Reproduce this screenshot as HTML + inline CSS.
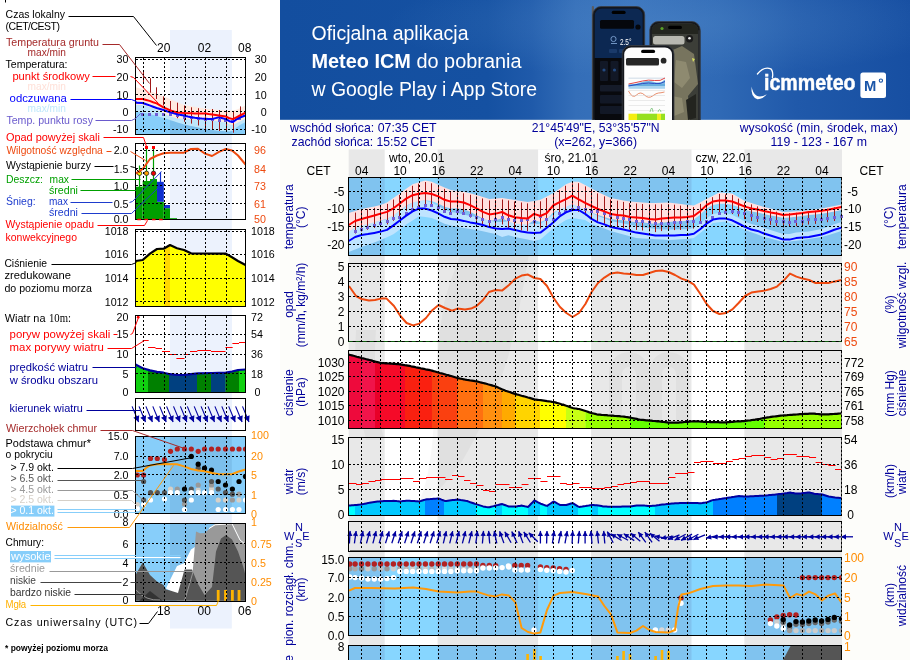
<!DOCTYPE html>
<html lang="pl"><head><meta charset="utf-8"><title>Meteogram ICM</title>
<style>
html,body{margin:0;padding:0;background:#fff;}
body{width:910px;height:660px;overflow:hidden;font-family:"Liberation Sans",sans-serif;}
svg{display:block;font-family:"Liberation Sans",sans-serif;will-change:transform;}
</style></head><body>
<svg width="910" height="660" viewBox="0 0 910 660">
<rect x="170" y="30" width="61.8" height="598.5" fill="#ecf2fd" /><rect x="5" y="0" width="1" height="2.5" fill="#000" /><text x="163.8" y="51.6" font-size="12" fill="#000" text-anchor="middle" >20</text><text x="204.5" y="51.6" font-size="12" fill="#000" text-anchor="middle" >02</text><text x="244.8" y="51.6" font-size="12" fill="#000" text-anchor="middle" >08</text><text x="163.8" y="614.5" font-size="12" fill="#000" text-anchor="middle" >18</text><text x="204.2" y="614.5" font-size="12" fill="#000" text-anchor="middle" >00</text><text x="244.8" y="614.5" font-size="12" fill="#000" text-anchor="middle" >06</text><rect x="135.5" y="111.8" width="110" height="22.4" fill="#87cefa" /><rect x="170" y="111.8" width="61.8" height="22.4" fill="#7cbfec" /><rect x="170" y="57.6" width="61.8" height="54.2" fill="#ecf2fd" /><polygon points="135.5,98.7 142.7,99 146.2,100.2 149.6,101.4 153.1,102.7 156.6,104 160,105 163.5,106 167,107.2 170.5,108.3 173.9,109.3 177.4,110.3 180.9,110.9 184.3,111.6 187.8,112.5 191.3,113.3 194.8,113.8 198.2,114.2 201.7,114.5 205.2,114.7 208.6,114.9 212.1,115 215.6,114.1 219,113.3 222.5,114.2 226,115.1 229.4,117.2 232.9,118 236.4,115.4 239.9,113.5 243.3,112.3 245.5,111.5 245.5,122 243.3,123.2 239.9,125 236.4,127.5 232.9,130.7 229.4,131.4 226,131.3 222.5,131.1 219,131 215.6,130.5 212.1,130 208.6,129.5 205.2,129 201.7,128.3 198.2,127.5 194.8,126.8 191.3,126.1 187.8,125.3 184.3,124.6 180.9,123.5 177.4,122.4 173.9,121.3 170.5,120.2 167,119.1 163.5,118 160,117 156.6,115.9 153.1,114.9 149.6,113.9 146.2,113.3 142.7,112.7 135.5,111.5" fill="#bfe6fb" /><polygon points="135.5,87.3 142.7,89.1 146.2,90 149.6,90.9 153.1,92.2 156.6,93.6 160,95 163.5,96.4 167,97.8 170.5,99.3 173.9,100.8 177.4,102.2 180.9,103.7 184.3,105.1 187.8,105.7 191.3,106.2 194.8,106.8 198.2,107.4 201.7,108 205.2,108.6 208.6,108.9 212.1,109.3 215.6,109.6 219,109.9 222.5,110.3 226,110.6 229.4,110.4 232.9,110.2 236.4,109.8 239.9,108.2 243.3,106.5 245.5,105.5 245.5,118.7 243.3,119.8 239.9,121.5 236.4,123.3 232.9,125.1 229.4,124.3 226,122.5 222.5,122 219,121.5 215.6,121 212.1,120.5 208.6,120.1 205.2,119.6 201.7,119.6 198.2,119.6 194.8,119.5 191.3,119.3 187.8,119.2 184.3,119 180.9,118.7 177.4,118.4 173.9,117.5 170.5,116.5 167,114.9 163.5,113.3 160,111.3 156.6,109.4 153.1,108.2 149.6,106.9 146.2,106 142.7,105 135.5,105" fill="#ffeae0" /><path d="M143.5 70V82.7M150.5 78.2V92.7M156.5 87.3V99M163.5 96.4V105.5M170.5 101V114.5M177.5 102.7V118.2M184.5 105.5V121.8M191.5 107.3V123.6M198.5 108.2V125.5M205.5 109V129M212.5 109V130M219.5 110V131M226.5 110V131.8M233.5 111V132.7M240.5 106.4V120" stroke="#a01818" stroke-width="1" fill="none"/><rect x="141" y="113" width="3" height="3" fill="#7060d8" /><rect x="148" y="113" width="3" height="3" fill="#7060d8" /><rect x="155" y="113" width="3" height="3" fill="#7060d8" /><rect x="162" y="113" width="3" height="3" fill="#7060d8" /><rect x="169" y="113" width="3" height="3" fill="#7060d8" /><rect x="176" y="114" width="3" height="3" fill="#7060d8" /><rect x="183" y="116" width="3" height="3" fill="#7060d8" /><rect x="190" y="116" width="3" height="3" fill="#7060d8" /><rect x="197" y="117" width="3" height="3" fill="#7060d8" /><rect x="204" y="118" width="3" height="3" fill="#7060d8" /><rect x="211" y="118" width="3" height="3" fill="#7060d8" /><rect x="218" y="119" width="3" height="3" fill="#7060d8" /><rect x="224" y="119" width="3" height="3" fill="#7060d8" /><rect x="231" y="120" width="3" height="3" fill="#7060d8" /><rect x="238" y="117" width="3" height="3" fill="#7060d8" /><polyline points="135.5,102.7 142.7,103 146.2,104.2 149.6,105.4 153.1,106.7 156.6,108 160,109 163.5,110 167,111.2 170.5,112.3 173.9,113.3 177.4,114.3 180.9,114.9 184.3,115.6 187.8,116.5 191.3,117.3 194.8,117.8 198.2,118.2 201.7,118.5 205.2,118.7 208.6,118.9 212.1,119 215.6,118.1 219,117.3 222.5,118.2 226,119.1 229.4,121.2 232.9,122 236.4,119.4 239.9,117.5 243.3,116.3 245.5,115.5" fill="none" stroke="#0000ff" stroke-width="2" stroke-linejoin="round"/><polyline points="135.5,99 142.7,99 146.2,100 149.6,100.9 153.1,102.2 156.6,103.4 160,105.3 163.5,107.3 167,108.9 170.5,110.5 173.9,111.5 177.4,112.4 180.9,112.7 184.3,113 187.8,113.2 191.3,113.3 194.8,113.5 198.2,113.6 201.7,113.6 205.2,113.6 208.6,114.1 212.1,114.5 215.6,115 219,115.5 222.5,116 226,116.5 229.4,118.3 232.9,119.1 236.4,117.3 239.9,115.5 243.3,113.8 245.5,112.7" fill="none" stroke="#ff0000" stroke-width="2" stroke-linejoin="round"/><path d="M143.5 57.6V134.2M164.5 57.6V134.2M185.5 57.6V134.2M205.5 57.6V134.2M226.5 57.6V134.2M135.5 59.5H245.5M135.5 77.5H245.5M135.5 94.5H245.5M135.5 111.5H245.5M135.5 129.5H245.5" stroke="#000" stroke-width="1" stroke-dasharray="2 2" fill="none" shape-rendering="crispEdges"/><rect x="135.5" y="57.5" width="110" height="77" fill="none" stroke="#000" stroke-width="1" shape-rendering="crispEdges"/><text x="128.5" y="63.2" font-size="10.7" fill="#000" text-anchor="end" >30</text><text x="266.7" y="63.2" font-size="10.7" fill="#000" text-anchor="end" >30</text><text x="128.5" y="81.3" font-size="10.7" fill="#000" text-anchor="end" >20</text><text x="266.7" y="81.3" font-size="10.7" fill="#000" text-anchor="end" >20</text><text x="128.5" y="98.5" font-size="10.7" fill="#000" text-anchor="end" >10</text><text x="266.7" y="98.5" font-size="10.7" fill="#000" text-anchor="end" >10</text><text x="128.5" y="115.8" font-size="10.7" fill="#000" text-anchor="end" >0</text><text x="266.7" y="115.8" font-size="10.7" fill="#000" text-anchor="end" >0</text><text x="128.5" y="133.1" font-size="10.7" fill="#000" text-anchor="end" >-10</text><text x="266.7" y="133.1" font-size="10.7" fill="#000" text-anchor="end" >-10</text><rect x="170" y="143.6" width="61.8" height="76.4" fill="#ecf2fd" /><rect x="135.5" y="186.7" width="7.2" height="33.3" fill="#00a000" /><rect x="142.7" y="181" width="7.3" height="39" fill="#00a000" /><rect x="150" y="179" width="7" height="41" fill="#00a000" /><rect x="157" y="201.8" width="6.8" height="18.2" fill="#00a000" /><rect x="157" y="181.8" width="6.8" height="20" fill="#1030d0" /><rect x="163.8" y="208.2" width="6.2" height="11.8" fill="#00a000" /><rect x="163.8" y="205" width="6.2" height="3.2" fill="#1030d0" /><rect x="170" y="218.2" width="7" height="1.8" fill="#00a000" /><path d="M139.5 165.5V187M146.5 148V182M153.5 148V180" stroke="#00a000" stroke-width="1.2"/><path d="M160.5 171.8V182" stroke="#1030d0" stroke-width="1.2"/><rect x="145" y="146" width="3" height="3" fill="#ff0000" /><rect x="152" y="146" width="3" height="3" fill="#ff0000" /><circle cx="139.5" cy="173.3" r="2.2" fill="#ffee00" stroke="#222" stroke-width="0.8"/><circle cx="146.5" cy="173.3" r="2.2" fill="#ffa000" stroke="#222" stroke-width="0.8"/><circle cx="153.5" cy="173.3" r="2.2" fill="#ee0000" stroke="#222" stroke-width="0.8"/><polyline points="135.5,173.6 142.7,169 150,159 157,155.5 163.6,153.3 170,152.7 184,152.7 191,149 198,148.7 205,153.6 212,156 219,151.8 225.8,149 232,150.4 238,155.5 245.5,164.5" fill="none" stroke="#ee4a10" stroke-width="2" stroke-linejoin="round"/><path d="M143.5 143.6V220M164.5 143.6V220M185.5 143.6V220M205.5 143.6V220M226.5 143.6V220M135.5 150.5H245.5M135.5 168.5H245.5M135.5 185.5H245.5M135.5 203.5H245.5" stroke="#000" stroke-width="1" stroke-dasharray="2 2" fill="none" shape-rendering="crispEdges"/><rect x="135.5" y="143.5" width="110" height="76" fill="none" stroke="#000" stroke-width="1" shape-rendering="crispEdges"/><path d="M137.3 219.5H141M144.5 219.5H148M152 219.5H155.5M159 219.5H162.7" stroke="#ff0000" stroke-width="1.3"/><text x="128.5" y="154" font-size="10.7" fill="#000" text-anchor="end" >2.0</text><text x="128.5" y="172.7" font-size="10.7" fill="#000" text-anchor="end" >1.5</text><text x="128.5" y="189.5" font-size="10.7" fill="#000" text-anchor="end" >1.0</text><text x="128.5" y="207.6" font-size="10.7" fill="#000" text-anchor="end" >0.5</text><text x="128.5" y="223.3" font-size="10.7" fill="#000" text-anchor="end" >0.0</text><text x="254" y="154" font-size="10.7" fill="#ee4a10" text-anchor="start" >96</text><text x="254" y="172.7" font-size="10.7" fill="#ee4a10" text-anchor="start" >84</text><text x="254" y="189.5" font-size="10.7" fill="#ee4a10" text-anchor="start" >73</text><text x="254" y="207.6" font-size="10.7" fill="#ee4a10" text-anchor="start" >61</text><text x="254" y="223.3" font-size="10.7" fill="#ee4a10" text-anchor="start" >50</text><rect x="170" y="229.5" width="61.8" height="76.9" fill="#ecf2fd" /><polygon points="135.5,261 142.7,260 150,253.6 157,249 163.6,248.7 170,245 177,248.2 184,250 191,253.3 225.8,253.6 232,257.3 238,261 245.5,265 245.5,306.4 135.5,306.4" fill="#ffff00" /><clipPath id="lpc"><polygon points="135.5,261 142.7,260 150,253.6 157,249 163.6,248.7 170,245 177,248.2 184,250 191,253.3 225.8,253.6 232,257.3 238,261 245.5,265 245.5,306.4 135.5,306.4"/></clipPath><g clip-path="url(#lpc)"><rect x="164.5" y="229.5" width="5.5" height="76.9" fill="#ffd700" /></g><polyline points="135.5,261 142.7,260 150,253.6 157,249 163.6,248.7 170,245 177,248.2 184,250 191,253.3 225.8,253.6 232,257.3 238,261 245.5,265" fill="none" stroke="#000" stroke-width="2.2" stroke-linejoin="round"/><path d="M143.5 229.5V306.4M164.5 229.5V306.4M185.5 229.5V306.4M205.5 229.5V306.4M226.5 229.5V306.4M135.5 231.5H245.5M135.5 254.5H245.5M135.5 278.5H245.5M135.5 301.5H245.5" stroke="#000" stroke-width="1" stroke-dasharray="2 2" fill="none" shape-rendering="crispEdges"/><rect x="135.5" y="229.5" width="110" height="77" fill="none" stroke="#000" stroke-width="1" shape-rendering="crispEdges"/><text x="128.5" y="235.3" font-size="10.7" fill="#000" text-anchor="end" >1018</text><text x="251" y="235.3" font-size="10.7" fill="#000" text-anchor="start" >1018</text><text x="128.5" y="258.2" font-size="10.7" fill="#000" text-anchor="end" >1016</text><text x="251" y="258.2" font-size="10.7" fill="#000" text-anchor="start" >1016</text><text x="128.5" y="282.2" font-size="10.7" fill="#000" text-anchor="end" >1014</text><text x="251" y="282.2" font-size="10.7" fill="#000" text-anchor="start" >1014</text><text x="128.5" y="305.5" font-size="10.7" fill="#000" text-anchor="end" >1012</text><text x="251" y="305.5" font-size="10.7" fill="#000" text-anchor="start" >1012</text><rect x="170" y="315.5" width="61.8" height="76.7" fill="#ecf2fd" /><clipPath id="lwc"><polygon points="135.5,364.5 142.7,368.2 150,370.4 157,371.8 163.6,372.7 170,374.2 177,375 184,375 191,374.2 198,373.3 212,373 225.8,372.7 232,371.5 238,370 245.5,369.5 245.5,392.2 135.5,392.2"/></clipPath><g clip-path="url(#lwc)"><rect x="135.5" y="315.5" width="12.8" height="76.7" fill="#10d010" /><rect x="148" y="315.5" width="21.3" height="76.7" fill="#008000" /><rect x="169" y="315.5" width="28.3" height="76.7" fill="#004080" /><rect x="197" y="315.5" width="14.3" height="76.7" fill="#008000" /><rect x="211" y="315.5" width="14.8" height="76.7" fill="#004080" /><rect x="225.5" y="315.5" width="13.8" height="76.7" fill="#008000" /><rect x="239" y="315.5" width="6.8" height="76.7" fill="#10d010" /></g><polyline points="135.5,364.5 142.7,368.2 150,370.4 157,371.8 163.6,372.7 170,374.2 177,375 184,375 191,374.2 198,373.3 212,373 225.8,372.7 232,371.5 238,370 245.5,369.5" fill="none" stroke="#0000a0" stroke-width="2.2" stroke-linejoin="round"/><path d="M142.7 340.5H148.7M148 347.5H155.5M155.5 348.5H162M162 351.5H170M170 354.5H176.7M176.4 358.5H184.5M183.6 354.5H190M190 351.5H197.3M197.3 350.5H211M211 351.5H225.5M225.5 347.5H232.7M232.4 343.5H239M239 342.5H245.5" stroke="#ff0000" stroke-width="1" fill="none"/><circle cx="138.2" cy="317.2" r="1.4" fill="#ff0000"/><path d="M143.5 315.5V392.2M164.5 315.5V392.2M185.5 315.5V392.2M205.5 315.5V392.2M226.5 315.5V392.2M135.5 334.5H245.5M135.5 354.5H245.5M135.5 373.5H245.5" stroke="#000" stroke-width="1" stroke-dasharray="2 2" fill="none" shape-rendering="crispEdges"/><rect x="135.5" y="315.5" width="110" height="77" fill="none" stroke="#000" stroke-width="1" shape-rendering="crispEdges"/><text x="128.5" y="321.3" font-size="10.7" fill="#000" text-anchor="end" >20</text><text x="128.5" y="338.2" font-size="10.7" fill="#000" text-anchor="end" >15</text><text x="128.5" y="358.2" font-size="10.7" fill="#000" text-anchor="end" >10</text><text x="128.5" y="377.6" font-size="10.7" fill="#000" text-anchor="end" >5</text><text x="128.5" y="396.4" font-size="10.7" fill="#000" text-anchor="end" >0</text><text x="251" y="321.3" font-size="10.7" fill="#000" text-anchor="start" >72</text><text x="251" y="338.2" font-size="10.7" fill="#000" text-anchor="start" >54</text><text x="251" y="358.2" font-size="10.7" fill="#000" text-anchor="start" >36</text><text x="251" y="377.6" font-size="10.7" fill="#000" text-anchor="start" >18</text><text x="254.5" y="396.4" font-size="10.7" fill="#000" text-anchor="start" >0</text><rect x="170" y="398.5" width="61.8" height="31.5" fill="#ecf2fd" /><path d="M143.5 398.5V430M164.5 398.5V430M185.5 398.5V430M205.5 398.5V430M226.5 398.5V430" stroke="#000" stroke-width="1" stroke-dasharray="2 2" fill="none" shape-rendering="crispEdges"/><path d="M132.1 406.4L138.6 422" stroke="#0000a0" stroke-width="1.1"/><polygon points="138.6,422 133.4,417.7 139.2,415.3" fill="#0000a0" /><path d="M139 406.4L145.5 422" stroke="#0000a0" stroke-width="1.1"/><polygon points="145.5,422 140.3,417.7 146.1,415.3" fill="#0000a0" /><path d="M145.9 406.4L152.4 422" stroke="#0000a0" stroke-width="1.1"/><polygon points="152.4,422 147.2,417.7 153,415.3" fill="#0000a0" /><path d="M152.8 406.4L159.3 422" stroke="#0000a0" stroke-width="1.1"/><polygon points="159.3,422 154.1,417.7 159.9,415.3" fill="#0000a0" /><path d="M159.7 406.4L166.2 422" stroke="#0000a0" stroke-width="1.1"/><polygon points="166.2,422 161,417.7 166.8,415.3" fill="#0000a0" /><path d="M166.6 406.4L173.1 422" stroke="#0000a0" stroke-width="1.1"/><polygon points="173.1,422 167.9,417.7 173.7,415.3" fill="#0000a0" /><path d="M173.5 406.4L180 422" stroke="#0000a0" stroke-width="1.1"/><polygon points="180,422 174.8,417.7 180.6,415.3" fill="#0000a0" /><path d="M180.4 406.4L186.9 422" stroke="#0000a0" stroke-width="1.1"/><polygon points="186.9,422 181.7,417.7 187.5,415.3" fill="#0000a0" /><path d="M187.3 406.4L193.8 422" stroke="#0000a0" stroke-width="1.1"/><polygon points="193.8,422 188.6,417.7 194.4,415.3" fill="#0000a0" /><path d="M194.2 406.4L200.7 422" stroke="#0000a0" stroke-width="1.1"/><polygon points="200.7,422 195.5,417.7 201.3,415.3" fill="#0000a0" /><path d="M201.1 406.4L207.6 422" stroke="#0000a0" stroke-width="1.1"/><polygon points="207.6,422 202.4,417.7 208.2,415.3" fill="#0000a0" /><path d="M208 406.4L214.5 422" stroke="#0000a0" stroke-width="1.1"/><polygon points="214.5,422 209.3,417.7 215.1,415.3" fill="#0000a0" /><path d="M214.9 406.4L221.4 422" stroke="#0000a0" stroke-width="1.1"/><polygon points="221.4,422 216.2,417.7 222,415.3" fill="#0000a0" /><path d="M221.8 406.4L228.3 422" stroke="#0000a0" stroke-width="1.1"/><polygon points="228.3,422 223.1,417.7 228.9,415.3" fill="#0000a0" /><path d="M228.7 406.4L235.2 422" stroke="#0000a0" stroke-width="1.1"/><polygon points="235.2,422 230,417.7 235.8,415.3" fill="#0000a0" /><path d="M235.6 406.4L242.1 422" stroke="#0000a0" stroke-width="1.1"/><polygon points="242.1,422 236.9,417.7 242.7,415.3" fill="#0000a0" /><path d="M242.5 406.4L249 422" stroke="#0000a0" stroke-width="1.1"/><polygon points="249,422 243.8,417.7 249.6,415.3" fill="#0000a0" /><rect x="135.5" y="398.5" width="110" height="32" fill="none" stroke="#000" stroke-width="1" shape-rendering="crispEdges"/><rect x="135.5" y="436.7" width="110" height="77.3" fill="#87cefa" /><rect x="170" y="436.7" width="61.8" height="77.3" fill="#7cbfec" /><clipPath id="lcb"><rect x="135.5" y="436.7" width="110.5" height="77.3"/></clipPath><g clip-path="url(#lcb)"><circle cx="170.5" cy="489" r="2.6" fill="#d6d0c8"/><circle cx="198.2" cy="490" r="2.6" fill="#d6d0c8"/><circle cx="211.5" cy="489" r="2.6" fill="#d6d0c8"/><circle cx="218.2" cy="500" r="2.6" fill="#d6d0c8"/><circle cx="225.5" cy="500" r="2.6" fill="#d6d0c8"/><circle cx="239" cy="500" r="2.6" fill="#d6d0c8"/><circle cx="137.3" cy="504.5" r="2.6" fill="#d6d0c8"/><circle cx="177.3" cy="489" r="2.6" fill="#999"/><circle cx="198.2" cy="485" r="2.6" fill="#999"/><circle cx="211.5" cy="485" r="2.6" fill="#999"/><circle cx="239" cy="494.2" r="2.6" fill="#999"/><circle cx="232.4" cy="500" r="2.6" fill="#999"/><circle cx="184.5" cy="504" r="2.6" fill="#999"/><circle cx="143.6" cy="481.5" r="2.6" fill="#555"/><circle cx="150.5" cy="492.7" r="2.6" fill="#555"/><circle cx="157.3" cy="492.7" r="2.6" fill="#555"/><circle cx="164.5" cy="492.7" r="2.6" fill="#555"/><circle cx="143.6" cy="500" r="2.6" fill="#555"/><circle cx="184.5" cy="500" r="2.6" fill="#555"/><circle cx="191.3" cy="489" r="2.6" fill="#555"/><circle cx="211.5" cy="481.5" r="2.6" fill="#555"/><circle cx="218.2" cy="489" r="2.6" fill="#555"/><circle cx="225.5" cy="492.7" r="2.6" fill="#555"/><circle cx="232.4" cy="494.2" r="2.6" fill="#555"/><circle cx="198.2" cy="468.2" r="2.6" fill="#555"/><circle cx="170.5" cy="492.7" r="2.6" fill="#fff"/><circle cx="177.3" cy="492.7" r="2.6" fill="#fff"/><circle cx="191.3" cy="492.7" r="2.6" fill="#fff"/><circle cx="198.2" cy="492.7" r="2.6" fill="#fff"/><circle cx="204.5" cy="492.7" r="2.6" fill="#fff"/><circle cx="211.5" cy="492.7" r="2.6" fill="#fff"/><circle cx="150.5" cy="500" r="2.6" fill="#fff"/><circle cx="164.5" cy="499" r="2.6" fill="#fff"/><circle cx="191.3" cy="500" r="2.6" fill="#fff"/><circle cx="143.6" cy="504.5" r="2.6" fill="#fff"/><circle cx="137.3" cy="508.7" r="2.6" fill="#fff"/><circle cx="184.5" cy="509.5" r="2.6" fill="#fff"/><circle cx="218.2" cy="509.5" r="2.6" fill="#fff"/><circle cx="225.5" cy="509.5" r="2.6" fill="#fff"/><circle cx="232.4" cy="509.5" r="2.6" fill="#fff"/><circle cx="239" cy="509.5" r="2.6" fill="#fff"/><circle cx="245.5" cy="500" r="2.6" fill="#fff"/><circle cx="191.3" cy="456.4" r="2.6" fill="#000"/><circle cx="198.2" cy="464.2" r="2.6" fill="#000"/><circle cx="204.5" cy="468.2" r="2.6" fill="#000"/><circle cx="211.5" cy="470" r="2.6" fill="#000"/><circle cx="218.2" cy="481.5" r="2.6" fill="#000"/><circle cx="225.5" cy="485" r="2.6" fill="#000"/><circle cx="232.4" cy="489" r="2.6" fill="#000"/><circle cx="239" cy="481.5" r="2.6" fill="#000"/><circle cx="245.5" cy="476.4" r="2.6" fill="#000"/><circle cx="184.5" cy="489" r="2.6" fill="#000"/><circle cx="137.3" cy="475" r="2.6" fill="#b22222"/><circle cx="143.6" cy="475" r="2.6" fill="#b22222"/><circle cx="150.5" cy="458.5" r="2.6" fill="#b22222"/><circle cx="157.3" cy="458.5" r="2.6" fill="#b22222"/><circle cx="164.5" cy="459.6" r="2.6" fill="#b22222"/><circle cx="170.5" cy="451.3" r="2.6" fill="#b22222"/><circle cx="177.3" cy="449" r="2.6" fill="#b22222"/><circle cx="184.5" cy="449" r="2.6" fill="#b22222"/><circle cx="191.3" cy="449" r="2.6" fill="#b22222"/><circle cx="198.2" cy="451.3" r="2.6" fill="#b22222"/><circle cx="204.5" cy="449" r="2.6" fill="#b22222"/><circle cx="211.5" cy="449" r="2.6" fill="#b22222"/><circle cx="218.2" cy="449" r="2.6" fill="#b22222"/><circle cx="225.5" cy="449" r="2.6" fill="#b22222"/><circle cx="232.4" cy="449" r="2.6" fill="#b22222"/><circle cx="239" cy="449" r="2.6" fill="#b22222"/><circle cx="245.5" cy="449" r="2.6" fill="#b22222"/></g><polyline points="135.5,471 142.7,471 146,468 150,465.5 157,464.2 163.6,464 177,464.2 184,466.4 191,469 198,470.5 205,471.3 212,473 219,474.2 232,474.2 238,471.8 245.5,469.5" fill="none" stroke="#ff9a0a" stroke-width="2" stroke-linejoin="round"/><path d="M143.5 436.7V514M164.5 436.7V514M185.5 436.7V514M205.5 436.7V514M226.5 436.7V514M135.5 456.5H245.5M135.5 474.5H245.5M135.5 494.5H245.5" stroke="#000" stroke-width="1" stroke-dasharray="2 2" fill="none" shape-rendering="crispEdges"/><rect x="135.5" y="436.5" width="110" height="77" fill="none" stroke="#000" stroke-width="1" shape-rendering="crispEdges"/><text x="128.5" y="440.2" font-size="10.7" fill="#000" text-anchor="end" >15.0</text><text x="128.5" y="460.4" font-size="10.7" fill="#000" text-anchor="end" >7.0</text><text x="128.5" y="479" font-size="10.7" fill="#000" text-anchor="end" >2.0</text><text x="128.5" y="499" font-size="10.7" fill="#000" text-anchor="end" >0.5</text><text x="128.5" y="518" font-size="10.7" fill="#000" text-anchor="end" >0.0</text><text x="251" y="439.3" font-size="10.7" fill="#ff8c00" text-anchor="start" >100</text><text x="251" y="460.4" font-size="10.7" fill="#ff8c00" text-anchor="start" >20</text><text x="251" y="479" font-size="10.7" fill="#ff8c00" text-anchor="start" >5</text><text x="251" y="499" font-size="10.7" fill="#ff8c00" text-anchor="start" >1</text><text x="251" y="518" font-size="10.7" fill="#ff8c00" text-anchor="start" >0</text><rect x="135.5" y="523.2" width="110" height="77.6" fill="#87cefa" /><rect x="170" y="523.2" width="61.8" height="77.6" fill="#7cbfec" /><clipPath id="lcl"><rect x="135.5" y="523.2" width="110" height="77.6"/></clipPath><g clip-path="url(#lcl)"><polygon points="166,588.6 170,580 177,566 184,563.2 191,549.5 198,545 205,541.4 209,528.6 215,525 225,523.2 232,523.5 240,540 245.5,544 245.5,601 177,601 170,590.5" fill="#fff" /><polygon points="192,580 196,531.4 200,533.2 205,533 209.5,528.6 215,525 232,523.5 240,540 245.5,544 245.5,601 192,601" fill="#999" /><polygon points="209.5,528.6 212,526 216,523.2 245.5,523.2 245.5,544 240,540 232,523.5 215,525" fill="#a8a8a8" /><polygon points="135.5,575 142.7,562.6 150,575 157,581.4 163.6,585 166,589.5 170,590.5 178,593 184.5,569.5 192,569.5 198,584 204.5,595 212,587 216,551.4 221,538.6 226,535 232,539.5 238,551.4 243,566 245.5,575 245.5,601 135.5,601" fill="#555" /><polygon points="139,601 150,591 163,601" fill="#333" /><path d="M209 528.5L215 524.8L232 523.7L240 540L245.5 544.5" stroke="#fff" stroke-width="1" fill="none"/><path d="M184.5 601L193 572M136 590Q146 601 160 600" stroke="#aaa" stroke-width="0.8" fill="none"/><rect x="216.8" y="590" width="2.8" height="11" fill="#ffb400" /><rect x="224.1" y="590" width="2.8" height="11" fill="#ffb400" /><rect x="231" y="590" width="2.8" height="11" fill="#ffb400" /><rect x="237.6" y="590" width="2.8" height="11" fill="#ffb400" /></g><path d="M143.5 523.2V600.8M164.5 523.2V600.8M185.5 523.2V600.8M205.5 523.2V600.8M226.5 523.2V600.8M135.5 543.5H245.5M135.5 562.5H245.5M135.5 582.5H245.5" stroke="#000" stroke-width="1" stroke-dasharray="2 2" fill="none" shape-rendering="crispEdges"/><rect x="135.5" y="523.5" width="110" height="78" fill="none" stroke="#000" stroke-width="1" shape-rendering="crispEdges"/><text x="128.5" y="526" font-size="10.7" fill="#000" text-anchor="end" >8</text><text x="128.5" y="547.5" font-size="10.7" fill="#000" text-anchor="end" >6</text><text x="128.5" y="566.6" font-size="10.7" fill="#000" text-anchor="end" >4</text><text x="128.5" y="586.3" font-size="10.7" fill="#000" text-anchor="end" >2</text><text x="128.5" y="604" font-size="10.7" fill="#000" text-anchor="end" >0</text><text x="251" y="526" font-size="10.7" fill="#ff8c00" text-anchor="start" >1</text><text x="251" y="547.5" font-size="10.7" fill="#ff8c00" text-anchor="start" >0.75</text><text x="251" y="566.6" font-size="10.7" fill="#ff8c00" text-anchor="start" >0.5</text><text x="251" y="586.3" font-size="10.7" fill="#ff8c00" text-anchor="start" >0.25</text><text x="251" y="604.5" font-size="10.7" fill="#ff8c00" text-anchor="start" >0</text><text x="5.6" y="18" font-size="10.48" fill="#000">Czas lokalny</text><text x="5.6" y="30" font-size="10.5" textLength="54.4" lengthAdjust="spacing">(CET/CEST)</text><polyline points="68.5,16.5 133.5,16.5 156.5,45.5" fill="none" stroke="#000" stroke-width="1" /><text x="6" y="46" font-size="10.66" fill="#a52a2a">Temperatura gruntu</text><text x="27.6" y="55.6" font-size="10.16" fill="#a52a2a">max/min</text><polyline points="102.5,44.5 119.5,44.5 149.5,83.5" fill="none" stroke="#a52a2a" stroke-width="1" /><text x="5.6" y="67.6" font-size="10.53" fill="#000">Temperatura:</text><text x="12.4" y="80" font-size="11.17" fill="#ff0000">punkt &#347;rodkowy</text><polyline points="92.5,76.5 115.5,76.5" fill="none" stroke="#ff0000" stroke-width="1" /><polyline points="130.5,76.5 133.5,77.5 158.5,103.5" fill="none" stroke="#ff0000" stroke-width="1" /><text x="27.6" y="90" font-size="10.16" fill="#ffe0d8">max/min</text><text x="9.6" y="101.6" font-size="11.33" fill="#0000ff">odczuwana</text><polyline points="70.5,99.5 131.5,99.5 136.5,101.5" fill="none" stroke="#0000ff" stroke-width="1" /><text x="27.6" y="111.6" font-size="10.16" fill="#bfe8fb">max/min</text><text x="6.4" y="123.6" font-size="10.60" fill="#6a5acd">Temp. punktu rosy</text><polyline points="95.5,120.5 131.5,120.5 135.5,118.5 140.5,113.5" fill="none" stroke="#6a5acd" stroke-width="1" /><text x="6" y="140.6" font-size="10.91" fill="#ff0000">Opad powy&#380;ej skali</text><polyline points="103.5,137.5 143.5,137.5 146.5,146.5" fill="none" stroke="#ff0000" stroke-width="1" /><text x="6.4" y="154.4" font-size="10.28" fill="#ee4a10">Wilgotno&#347;&#263; wzgl&#281;dna</text><polyline points="106.5,151.5 111.5,151.5" fill="none" stroke="#ee4a10" stroke-width="1" /><polyline points="130.5,151.5 145.5,160.5" fill="none" stroke="#ee4a10" stroke-width="1" /><text x="6" y="168.6" font-size="10.42" fill="#000">Wyst&#261;pienie burzy</text><polyline points="94.5,166.5 113.5,166.5" fill="none" stroke="#000" stroke-width="1" /><polyline points="130.5,166.5 134.5,167.5 139.5,172.5" fill="none" stroke="#000" stroke-width="1" /><text x="6" y="182.6" font-size="10.41" fill="#00a000">Deszcz:</text><text x="49.6" y="182.6" font-size="10.26" fill="#00a000">max</text><polyline points="71.5,179.5 140.5,179.5" fill="none" stroke="#00a000" stroke-width="1" /><text x="49" y="193.6" font-size="10.64" fill="#00a000">&#347;redni</text><polyline points="80.5,190.5 136.5,190.5" fill="none" stroke="#00a000" stroke-width="1" /><text x="6" y="204.6" font-size="10.44" fill="#1e3ccd">&#346;nieg:</text><text x="49" y="204.6" font-size="10.05" fill="#1e3ccd">max</text><polyline points="70.5,202.5 112.5,202.5" fill="none" stroke="#1e3ccd" stroke-width="1" /><polyline points="129.5,202.5 132.5,201.5 161.5,171.5" fill="none" stroke="#1e3ccd" stroke-width="1" /><text x="49" y="215.6" font-size="10.64" fill="#1e3ccd">&#347;redni</text><polyline points="81.5,213.5 131.5,213.5 158.5,187.5" fill="none" stroke="#1e3ccd" stroke-width="1" /><text x="5.6" y="228" font-size="10.41" fill="#ff0000">Wyst&#261;pienie opadu</text><text x="5.6" y="240.6" font-size="10.44" fill="#ff0000">konwekcyjnego</text><polyline points="97.5,225.5 144.5,225.5 147.5,220.5" fill="none" stroke="#ff0000" stroke-width="1" /><text x="4.4" y="266.6" font-size="10.35" fill="#000">Ci&#347;nienie</text><text x="4.4" y="279.4" font-size="11.19" fill="#000">zredukowane</text><text x="4.4" y="292.4" font-size="10.64" fill="#000">do poziomu morza</text><polyline points="51.5,264.5 131.5,264.5 136.5,262.5" fill="none" stroke="#000" stroke-width="1" /><text x="4.8" y="321.6" font-size="10.93" fill="#000">Wiatr na</text><text x="49" y="321.6" font-size="12" fill="#000" font-family="Liberation Serif" textLength="22" lengthAdjust="spacingAndGlyphs">10m:</text><text x="9.6" y="338" font-size="11.41" fill="#ff0000">poryw powy&#380;ej skali</text><polyline points="113.5,334.5 117.5,334.5" fill="none" stroke="#ff0000" stroke-width="1" /><polyline points="130.5,334.5 132.5,333.5 138.5,317.5" fill="none" stroke="#ff0000" stroke-width="1" /><text x="9.6" y="351.4" font-size="11.40" fill="#ff0000">max porywy wiatru</text><polyline points="107.5,348.5 131.5,348.5 144.5,340.5" fill="none" stroke="#ff0000" stroke-width="1" /><text x="9.6" y="371" font-size="11.19" fill="#00009b">pr&#281;dko&#347;&#263; wiatru</text><text x="9.7" y="384" font-size="11.28" fill="#00009b">w &#347;rodku obszaru</text><polyline points="92.5,367.5 136.5,367.5" fill="none" stroke="#00009b" stroke-width="1" /><text x="9.6" y="412.4" font-size="10.91" fill="#00009b">kierunek wiatru</text><polyline points="86.5,410.5 140.5,410.5" fill="none" stroke="#00009b" stroke-width="1" /><text x="6" y="432.4" font-size="10.71" fill="#a52a2a">Wierzcho&#322;ek chmur</text><polyline points="100.5,430.5 132.5,430.5 184.5,448.5" fill="none" stroke="#a52a2a" stroke-width="1" /><text x="5.6" y="447.4" font-size="10.90" fill="#000">Podstawa chmur*</text><text x="5.6" y="458.4" font-size="10.39" fill="#000">o pokryciu</text><text x="10.4" y="471.4" font-size="10.53" fill="#000">&gt; 7.9 okt.</text><polyline points="57.5,468.5 132.5,468.5 192.5,457.5" fill="none" stroke="#000" stroke-width="1" /><text x="10.4" y="482.4" font-size="10.53" fill="#555">&gt; 6.5 okt.</text><polyline points="57.5,480.5 143.5,480.5" fill="none" stroke="#555" stroke-width="1" /><text x="10.4" y="493" font-size="10.53" fill="#999">&gt; 4.5 okt.</text><polyline points="57.5,490.5 132.5,490.5 143.5,500.5" fill="none" stroke="#999" stroke-width="1" /><text x="10.4" y="503" font-size="10.53" fill="#d6d0c8">&gt; 2.5 okt.</text><polyline points="57.5,500.5 131.5,500.5 137.5,506.5" fill="none" stroke="#d6d0c8" stroke-width="1" /><rect x="11" y="505.6" width="43.4" height="11" fill="#87cefa" /><text x="10.4" y="514" font-size="10.53" fill="#fff">&gt; 0.1 okt.</text><polyline points="57.5,509.5 136.5,509.5" fill="none" stroke="#87cefa" stroke-width="1" /><polyline points="57.5,512.5 136.5,512.5" fill="none" stroke="#87cefa" stroke-width="1" /><text x="6" y="529.8" font-size="10.68" fill="#ff8c00">Widzialno&#347;&#263;</text><polyline points="67.5,527.5 129.5,527.5 173.5,465.5" fill="none" stroke="#ff9a0a" stroke-width="1" /><text x="5.6" y="546" font-size="10.16" fill="#000">Chmury:</text><rect x="10" y="551" width="41" height="11.4" fill="#87cefa" /><text x="11.1" y="559.6" font-size="11.10" fill="#fff">wysokie</text><polyline points="54.5,555.5 180.5,555.5" fill="none" stroke="#87cefa" stroke-width="1" /><polyline points="54.5,557.5 180.5,557.5" fill="none" stroke="#fff" stroke-width="1" /><polyline points="54.5,558.5 180.5,558.5" fill="none" stroke="#87cefa" stroke-width="1" /><text x="10" y="572.4" font-size="10.67" fill="#999">&#347;rednie</text><polyline points="49.5,571.5 200.5,571.5" fill="none" stroke="#999" stroke-width="1" /><text x="10" y="584.4" font-size="10.18" fill="#444">niskie</text><polyline points="40.5,582.5 121.5,582.5" fill="none" stroke="#444" stroke-width="1" /><polyline points="130.5,582.5 136.5,582.5" fill="none" stroke="#444" stroke-width="1" /><text x="10" y="596.4" font-size="10.36" fill="#333">bardzo niskie</text><polyline points="74.5,594.5 143.5,594.5" fill="none" stroke="#333" stroke-width="1" /><text x="5.4" y="608" font-size="10.5" fill="#ffb000" textLength="20.8" lengthAdjust="spacingAndGlyphs">Mg&#322;a</text><polyline points="30.5,605.5 216.5,605.5 218.5,600.5" fill="none" stroke="#ffb400" stroke-width="1" /><text x="5.6" y="625.6" font-size="10.6" fill="#000" textLength="131.5" lengthAdjust="spacing">Czas uniwersalny (UTC)</text><polyline points="139.5,623.5 148.5,623.5 157.5,611.5" fill="none" stroke="#000" stroke-width="1" /><text x="5" y="651" font-size="9.6" font-weight="bold" fill="#000" textLength="103" lengthAdjust="spacingAndGlyphs">* powy&#380;ej poziomu morza</text><rect x="280" y="119" width="630" height="542" fill="#fdfdfa" /><rect x="348.7" y="149.4" width="493.3" height="511.6" fill="#e8e8e8" /><rect x="384.7" y="149.4" width="52.9" height="511.6" fill="#fff" /><rect x="538.1" y="149.4" width="52.9" height="511.6" fill="#fff" /><rect x="691.5" y="149.4" width="52.9" height="511.6" fill="#fff" /><g opacity="0.028" fill="#000" stroke="none"><path d="M528.8 255Q522 300 508.7 355Q490 415 460.5 464Q445 485 428 500L420 500Q432 470 434 415Q435 355 444 303Q450 280 460.5 255Z"/><path d="M356 330Q352 390 366 440L384 440Q372 390 376 330Z"/><path d="M609 423V372a20 20 0 0 1 40 0V423h-13V374a7 7 0 0 0 -14 0V423Z"/><path d="M649 423V372a20 20 0 0 1 40 0V423h-13V374a7 7 0 0 0 -14 0V423Z"/></g><text x="389" y="161.6" font-size="12" fill="#000" text-anchor="start" >wto, 20.01</text><text x="544.5" y="161.6" font-size="12" fill="#000" text-anchor="start" >&#347;ro, 21.01</text><text x="695.5" y="161.6" font-size="12" fill="#000" text-anchor="start" >czw, 22.01</text><text x="361.8" y="174.6" font-size="12" fill="#000" text-anchor="middle" >04</text><text x="400.1" y="174.6" font-size="12" fill="#000" text-anchor="middle" >10</text><text x="438.5" y="174.6" font-size="12" fill="#000" text-anchor="middle" >16</text><text x="476.8" y="174.6" font-size="12" fill="#000" text-anchor="middle" >22</text><text x="515.2" y="174.6" font-size="12" fill="#000" text-anchor="middle" >04</text><text x="553.5" y="174.6" font-size="12" fill="#000" text-anchor="middle" >10</text><text x="591.8" y="174.6" font-size="12" fill="#000" text-anchor="middle" >16</text><text x="630.2" y="174.6" font-size="12" fill="#000" text-anchor="middle" >22</text><text x="668.5" y="174.6" font-size="12" fill="#000" text-anchor="middle" >04</text><text x="706.9" y="174.6" font-size="12" fill="#000" text-anchor="middle" >10</text><text x="745.2" y="174.6" font-size="12" fill="#000" text-anchor="middle" >16</text><text x="783.5" y="174.6" font-size="12" fill="#000" text-anchor="middle" >22</text><text x="821.9" y="174.6" font-size="12" fill="#000" text-anchor="middle" >04</text><text x="318.5" y="174.6" font-size="12" fill="#000" text-anchor="middle" >CET</text><text x="871.5" y="174.6" font-size="12" fill="#000" text-anchor="middle" >CET</text><text x="290" y="131.9" font-size="12.34" fill="#00009b">wsch&#243;d s&#322;o&#324;ca: 07:35 CET</text><text x="291.6" y="145.7" font-size="12.23" fill="#00009b">zach&#243;d s&#322;o&#324;ca: 15:52 CET</text><text x="531.8" y="131.9" font-size="12.17" fill="#00009b">21&#176;45'49"E, 53&#176;35'57"N</text><text x="554.2" y="145.7" font-size="12.3" fill="#00009b" text-anchor="start" >(x=262,</text><text x="637" y="145.7" font-size="12.3" fill="#00009b" text-anchor="end" >y=366)</text><text x="739.7" y="131.9" font-size="12.28" fill="#00009b">wysoko&#347;&#263; (min, &#347;rodek, max)</text><text x="770.6" y="145.7" font-size="12.33" fill="#00009b">119 - 123 - 167 m</text><rect x="348.7" y="177.3" width="492.8" height="77.8" fill="#80c3ef" /><rect x="384.7" y="177.3" width="52.9" height="77.8" fill="#87d6ff" /><rect x="538.1" y="177.3" width="52.9" height="77.8" fill="#87d6ff" /><rect x="691.5" y="177.3" width="52.9" height="77.8" fill="#87d6ff" /><polygon points="348.7,229 355.1,225.2 361.5,223.4 367.9,222.7 374.3,221.7 380.6,220.7 387,219.3 393.4,215.3 399.8,210.8 406.2,206.3 412.6,202.4 419,200.2 425.4,200.5 431.8,202.7 438.2,205.9 444.5,209.6 450.9,212.1 457.3,213 463.7,214.4 470.1,215.9 476.5,217.1 482.9,218.5 489.3,220.6 495.7,222 502.1,222.1 508.4,221.3 514.8,222.2 521.2,223.4 527.6,223.8 534,224 540.4,223.9 546.8,219.4 553.2,214.4 559.6,208.7 566,205 572.3,203.1 578.7,203.2 585.1,207.2 591.5,212.4 597.9,216 604.3,218.2 610.7,220.9 617.1,222.3 623.5,223.4 629.9,224.8 636.2,226.3 642.6,227.2 649,228 655.4,229.1 661.8,229.4 668.2,229.5 674.6,229.6 681,229.2 687.4,229.3 693.8,228 700.1,223.7 706.5,218.2 712.9,214.1 719.3,213.1 725.7,213.1 732.1,214.8 738.5,218 744.9,221.4 751.3,224 757.7,225.4 764,228 770.4,230 776.8,232 783.2,234 789.6,234.1 796,232.6 802.4,232.1 808.8,231.5 815.2,230.2 821.6,229 828,226.7 834.3,224.3 841.5,222.1 841.5,231 834.3,233.2 828,235.2 821.6,237.1 815.2,238.1 808.8,239 802.4,240 796,240.7 789.6,241.4 783.2,241.9 776.8,240.2 770.4,238.6 764,236.9 757.7,234.6 751.3,232.3 744.9,229.9 738.5,227.1 732.1,224.3 725.7,221.6 719.3,222.3 712.9,223.1 706.5,228.1 700.1,233.1 693.8,238 687.4,239 681,239.3 674.6,239.7 668.2,240 661.8,239.6 655.4,239.2 649,238.8 642.6,238.4 636.2,238 629.9,236.2 623.5,234.4 617.1,232.7 610.7,230.9 604.3,228.6 597.9,226.3 591.5,224 585.1,220.1 578.7,219 572.3,218.1 566,220 559.6,224.1 553.2,228.4 546.8,234 540.4,239.6 534,240.9 527.6,239.6 521.2,238.3 514.8,236.9 508.4,235.2 502.1,237 495.7,234 489.3,232.7 482.9,231.3 476.5,230 470.1,229 463.7,228 457.3,226.9 450.9,225.4 444.5,223.8 438.2,220.8 431.8,218 425.4,216.9 419,216.3 412.6,220.4 406.2,224.6 399.8,229.5 393.4,234.3 387,237.2 380.6,240.1 374.3,242.4 367.9,244.7 361.5,247 355.1,249.6 348.7,252" fill="#bfe4ff" /><polygon points="348.7,213 355.1,211.1 361.5,209 367.9,207.7 374.3,206.4 380.6,205 387,202.4 393.4,198.1 399.8,193.4 406.2,188.8 412.6,184.3 419,182.2 425.4,180.5 431.8,181.8 438.2,184.8 444.5,187.4 450.9,190 457.3,190.9 463.7,191.8 470.1,193.3 476.5,194.9 482.9,197 489.3,199 495.7,198.5 502.1,198 508.4,199 514.8,200 521.2,201 527.6,201.9 534,201 540.4,199.8 546.8,196.5 553.2,193.2 559.6,188.8 566,184.3 572.3,181.8 578.7,181.7 585.1,184.9 591.5,188.4 597.9,191.9 604.3,194.9 610.7,197.9 617.1,199.2 623.5,200.4 629.9,201.6 636.2,202 642.6,202.5 649,202.9 655.4,202.9 661.8,202.8 668.2,202.6 674.6,203.2 681,204.1 687.4,205 693.8,205.6 700.1,202.4 706.5,199 712.9,195.7 719.3,192.4 725.7,193 732.1,193.6 738.5,197.2 744.9,200.9 751.3,202.9 757.7,204.9 764,206.9 770.4,208.6 776.8,210.2 783.2,211.9 789.6,211.7 796,211.3 802.4,211 808.8,210.2 815.2,209.3 821.6,208.5 828,207.2 834.3,205.9 841.5,204.4 841.5,210 834.3,211.5 828,212.7 821.6,213.7 815.2,214.4 808.8,215 802.4,216 796,216.7 789.6,217.4 783.2,217.9 776.8,216.6 770.4,215.4 764,213.9 757.7,212.6 751.3,211.4 744.9,209.7 738.5,207.1 732.1,204.8 725.7,203.7 719.3,203.8 712.9,205 706.5,208.5 700.1,214.7 693.8,219.6 687.4,220.7 681,221.2 674.6,221.5 668.2,222 661.8,222.7 655.4,223.7 649,223.2 642.6,222.3 636.2,221.9 629.9,221.6 623.5,220.3 617.1,219.8 610.7,218.9 604.3,216.9 597.9,215 591.5,212.5 585.1,209.8 578.7,206.9 572.3,203.7 566,206.8 559.6,209.4 553.2,212.3 546.8,219.5 540.4,222 534,220 527.6,224.7 521.2,224.1 514.8,223.5 508.4,221.6 502.1,218.3 495.7,220 489.3,220.8 482.9,218.4 476.5,214.9 470.1,211.7 463.7,209.2 457.3,208.2 450.9,208.4 444.5,206.7 438.2,203.4 431.8,201 425.4,200.2 419,200.9 412.6,202.5 406.2,205.8 399.8,210.6 393.4,215.4 387,218.8 380.6,220.5 374.3,222.3 367.9,224 361.5,225.7 355.1,227.6 348.7,231.5" fill="#ffe0e0" /><path d="M355.5 212.6V233.5M361.5 210.5V231.5M367.5 209.2V229.8M374.5 207.9V228M380.5 206.5V226.1M387.5 203.9V224.4M393.5 199.6V220.8M399.5 194.9V216M406.5 190.3V211.1M412.5 185.8V207.7M418.5 183.7V206.2M425.5 182V205.6M431.5 183.3V206.5M438.5 186.3V208.9M444.5 188.9V212.3M450.5 191.5V214.1M457.5 192.4V213.9M463.5 193.3V215M470.5 194.8V217.6M476.5 196.4V220.8M482.5 198.5V224.4M489.5 200.5V226.9M495.5 200V226.1M502.5 199.5V224.5M508.5 200.5V227.8M514.5 201.5V229.7M521.5 202.5V230.5M527.5 203.4V231.1M534.5 202.5V226.4M540.5 201.3V228.5M546.5 198V225.6M553.5 194.7V218M559.5 190.3V214.7M565.5 185.8V211.7M572.5 183.3V208.2M578.5 183.2V211.9M585.5 186.4V215.4M591.5 189.9V218.5M597.5 193.4V221.5M604.5 196.4V223.9M610.5 199.4V226.4M617.5 200.7V227.4M623.5 201.9V228.1M629.5 203.1V229.5M636.5 203.5V229.9M642.5 204V230.5M649.5 204.4V231.4M655.5 204.4V232.1M661.5 204.3V231.1M668.5 204.1V230.5M674.5 204.7V230.1M680.5 205.6V229.9M687.5 206.5V229.5M693.5 207.1V228.5M700.5 203.9V223.7M706.5 200.5V217.6M712.5 197.2V214.1M719.5 193.9V212.9M725.5 194.5V212.9M732.5 195.1V214M738.5 198.7V216.5M744.5 202.4V219.1M751.5 204.4V220.9M757.5 206.4V222M764.5 208.4V223.4M770.5 210.1V224.9M776.5 211.7V226.1M783.5 213.4V227.4M789.5 213.2V226.9M796.5 212.8V226.2M802.5 212.5V225.5M808.5 211.7V224.5M815.5 210.8V223.9M821.5 210V223.2M827.5 208.7V222.2M834.5 207.4V221" stroke="#a01818" stroke-width="1" fill="none"/><rect x="354" y="230" width="3" height="3" fill="#7060d8"/><rect x="360" y="228" width="3" height="3" fill="#7060d8"/><rect x="366" y="226" width="3" height="3" fill="#7060d8"/><rect x="373" y="224" width="3" height="3" fill="#7060d8"/><rect x="379" y="222" width="3" height="3" fill="#7060d8"/><rect x="386" y="220" width="3" height="3" fill="#7060d8"/><rect x="392" y="217" width="3" height="3" fill="#7060d8"/><rect x="398" y="216" width="3" height="3" fill="#7060d8"/><rect x="405" y="212" width="3" height="3" fill="#7060d8"/><rect x="411" y="208" width="3" height="3" fill="#7060d8"/><rect x="417" y="206" width="3" height="3" fill="#7060d8"/><rect x="424" y="204" width="3" height="3" fill="#7060d8"/><rect x="430" y="204" width="3" height="3" fill="#7060d8"/><rect x="437" y="206" width="3" height="3" fill="#7060d8"/><rect x="443" y="210" width="3" height="3" fill="#7060d8"/><rect x="449" y="212" width="3" height="3" fill="#7060d8"/><rect x="456" y="210" width="3" height="3" fill="#7060d8"/><rect x="462" y="212" width="3" height="3" fill="#7060d8"/><rect x="469" y="214" width="3" height="3" fill="#7060d8"/><rect x="475" y="216" width="3" height="3" fill="#7060d8"/><rect x="481" y="218" width="3" height="3" fill="#7060d8"/><rect x="488" y="220" width="3" height="3" fill="#7060d8"/><rect x="494" y="218" width="3" height="3" fill="#7060d8"/><rect x="501" y="216" width="3" height="3" fill="#7060d8"/><rect x="507" y="218" width="3" height="3" fill="#7060d8"/><rect x="513" y="219" width="3" height="3" fill="#7060d8"/><rect x="520" y="219" width="3" height="3" fill="#7060d8"/><rect x="526" y="218" width="3" height="3" fill="#7060d8"/><rect x="533" y="220" width="3" height="3" fill="#7060d8"/><rect x="539" y="215" width="3" height="3" fill="#7060d8"/><rect x="545" y="218" width="3" height="3" fill="#7060d8"/><rect x="552" y="218" width="3" height="3" fill="#7060d8"/><rect x="558" y="212" width="3" height="3" fill="#7060d8"/><rect x="564" y="210" width="3" height="3" fill="#7060d8"/><rect x="571" y="208" width="3" height="3" fill="#7060d8"/><rect x="577" y="206" width="3" height="3" fill="#7060d8"/><rect x="584" y="208" width="3" height="3" fill="#7060d8"/><rect x="590" y="210" width="3" height="3" fill="#7060d8"/><rect x="596" y="210" width="3" height="3" fill="#7060d8"/><rect x="603" y="212" width="3" height="3" fill="#7060d8"/><rect x="609" y="214" width="3" height="3" fill="#7060d8"/><rect x="616" y="216" width="3" height="3" fill="#7060d8"/><rect x="622" y="217" width="3" height="3" fill="#7060d8"/><rect x="628" y="218" width="3" height="3" fill="#7060d8"/><rect x="635" y="220" width="3" height="3" fill="#7060d8"/><rect x="641" y="220" width="3" height="3" fill="#7060d8"/><rect x="648" y="221" width="3" height="3" fill="#7060d8"/><rect x="654" y="222" width="3" height="3" fill="#7060d8"/><rect x="660" y="222" width="3" height="3" fill="#7060d8"/><rect x="667" y="222" width="3" height="3" fill="#7060d8"/><rect x="673" y="221" width="3" height="3" fill="#7060d8"/><rect x="679" y="221" width="3" height="3" fill="#7060d8"/><rect x="686" y="220" width="3" height="3" fill="#7060d8"/><rect x="692" y="220" width="3" height="3" fill="#7060d8"/><rect x="699" y="221" width="3" height="3" fill="#7060d8"/><rect x="705" y="220" width="3" height="3" fill="#7060d8"/><rect x="711" y="216" width="3" height="3" fill="#7060d8"/><rect x="718" y="212" width="3" height="3" fill="#7060d8"/><rect x="724" y="211" width="3" height="3" fill="#7060d8"/><rect x="731" y="210" width="3" height="3" fill="#7060d8"/><rect x="737" y="211" width="3" height="3" fill="#7060d8"/><rect x="743" y="212" width="3" height="3" fill="#7060d8"/><rect x="750" y="214" width="3" height="3" fill="#7060d8"/><rect x="756" y="216" width="3" height="3" fill="#7060d8"/><rect x="763" y="217" width="3" height="3" fill="#7060d8"/><rect x="769" y="218" width="3" height="3" fill="#7060d8"/><rect x="775" y="220" width="3" height="3" fill="#7060d8"/><rect x="782" y="220" width="3" height="3" fill="#7060d8"/><rect x="788" y="221" width="3" height="3" fill="#7060d8"/><rect x="794" y="220" width="3" height="3" fill="#7060d8"/><rect x="801" y="220" width="3" height="3" fill="#7060d8"/><rect x="807" y="218" width="3" height="3" fill="#7060d8"/><rect x="814" y="218" width="3" height="3" fill="#7060d8"/><rect x="820" y="218" width="3" height="3" fill="#7060d8"/><rect x="826" y="217" width="3" height="3" fill="#7060d8"/><rect x="833" y="216" width="3" height="3" fill="#7060d8"/><rect x="840" y="215" width="3" height="3" fill="#7060d8"/><polyline points="348.7,241 355.1,237 361.5,235 367.9,234.1 374.3,232.9 380.6,231.6 387,229.9 393.4,225.4 399.8,220.5 406.2,215.6 412.6,211.3 419,208.6 425.4,208.6 431.8,210.5 438.2,213.4 444.5,216.8 450.9,219 457.3,219.6 463.7,220.9 470.1,222.4 476.5,223.6 482.9,225 489.3,227.1 495.7,228.4 502.1,229 508.4,228.6 514.8,229.9 521.2,231.5 527.6,232.4 534,233 540.4,232.6 546.8,227.8 553.2,222.4 559.6,216.4 566,212.3 572.3,210.1 578.7,210 585.1,213.8 591.5,218.9 597.9,222.4 604.3,224.4 610.7,226.9 617.1,228.3 623.5,229.6 629.9,231 636.2,232.6 642.6,233.5 649,234.4 655.4,235.4 661.8,235.6 668.2,235.6 674.6,235.6 681,235 687.4,235 693.8,233.7 700.1,229.2 706.5,223.7 712.9,219.6 719.3,218.6 725.7,218.6 732.1,220.3 738.5,223.5 744.9,226.9 751.3,229.5 757.7,230.9 764,233.5 770.4,235.5 776.8,237.5 783.2,239.5 789.6,239.6 796,238.1 802.4,237.6 808.8,237 815.2,235.7 821.6,234.5 828,232.2 834.3,229.8 841.5,227.6" fill="none" stroke="#0000ff" stroke-width="2" stroke-linejoin="round"/><polyline points="348.7,225 355.1,221 361.5,219 367.9,217.3 374.3,215.5 380.6,213.6 387,211.9 393.4,208.3 399.8,203.5 406.2,198.6 412.6,195.2 419,193.7 425.4,193.1 431.8,194 438.2,196.4 444.5,199.8 450.9,201.6 457.3,201.4 463.7,202.5 470.1,205.1 476.5,208.3 482.9,211.9 489.3,214.4 495.7,213.6 502.1,212 508.4,215.3 514.8,217.2 521.2,218 527.6,218.6 534,213.9 540.4,216 546.8,213.1 553.2,205.5 559.6,202.2 566,199.2 572.3,195.7 578.7,199.4 585.1,202.9 591.5,206 597.9,209 604.3,211.4 610.7,213.9 617.1,214.9 623.5,215.6 629.9,217 636.2,217.4 642.6,218 649,218.9 655.4,219.6 661.8,218.6 668.2,218 674.6,217.6 681,217.4 687.4,217 693.8,216 700.1,211.2 706.5,205.1 712.9,201.6 719.3,200.4 725.7,200.4 732.1,201.5 738.5,204 744.9,206.6 751.3,208.4 757.7,209.5 764,210.9 770.4,212.4 776.8,213.6 783.2,214.9 789.6,214.4 796,213.7 802.4,213 808.8,212 815.2,211.4 821.6,210.7 828,209.7 834.3,208.5 841.5,207" fill="none" stroke="#ff0000" stroke-width="2" stroke-linejoin="round"/><path d="M361.5 177.3V255.1M380.5 177.3V255.1M400.5 177.3V255.1M419.5 177.3V255.1M438.5 177.3V255.1M457.5 177.3V255.1M476.5 177.3V255.1M495.5 177.3V255.1M515.5 177.3V255.1M534.5 177.3V255.1M553.5 177.3V255.1M572.5 177.3V255.1M591.5 177.3V255.1M611.5 177.3V255.1M630.5 177.3V255.1M649.5 177.3V255.1M668.5 177.3V255.1M687.5 177.3V255.1M706.5 177.3V255.1M726.5 177.3V255.1M745.5 177.3V255.1M764.5 177.3V255.1M783.5 177.3V255.1M802.5 177.3V255.1M821.5 177.3V255.1M841.5 177.3V255.1M348.7 191.5H841.5M348.7 209.5H841.5M348.7 226.5H841.5M348.7 244.5H841.5" stroke="#000" stroke-width="1" stroke-dasharray="2 2" fill="none" shape-rendering="crispEdges"/><rect x="348.5" y="177.5" width="493" height="78" fill="none" stroke="#000" stroke-width="1" shape-rendering="crispEdges"/><path d="M841.5 178.5V254.5" stroke="#666" stroke-width="1" shape-rendering="crispEdges"/><path d="M841.5 177.5V255.5" stroke="#000" stroke-width="1" stroke-dasharray="2 2" shape-rendering="crispEdges"/><text x="344.5" y="195.8" font-size="12" fill="#000" text-anchor="end" >-5</text><text x="344.5" y="213.4" font-size="12" fill="#000" text-anchor="end" >-10</text><text x="344.5" y="231.1" font-size="12" fill="#000" text-anchor="end" >-15</text><text x="344.5" y="248.6" font-size="12" fill="#000" text-anchor="end" >-20</text><text x="844" y="195.8" font-size="12" fill="#000" text-anchor="start" >&#160;-5</text><text x="844" y="213.4" font-size="12" fill="#000" text-anchor="start" >-10</text><text x="844" y="231.1" font-size="12" fill="#000" text-anchor="start" >-15</text><text x="844" y="248.6" font-size="12" fill="#000" text-anchor="start" >-20</text><text transform="translate(293 216.8) rotate(-90)" font-size="12" fill="#00009b" text-anchor="middle">temperatura</text><text transform="translate(305.3 217.3) rotate(-90)" font-size="12" fill="#00009b" text-anchor="middle">(&#176;C)</text><text transform="translate(893 217.3) rotate(-90)" font-size="12" fill="#00009b" text-anchor="middle">(&#176;C)</text><text transform="translate(905.6 216.8) rotate(-90)" font-size="12" fill="#00009b" text-anchor="middle">temperatura</text><polyline points="349,286 356,296 361.6,299 369,300.6 375,300 380.8,298.6 386.6,298.6 394,306 400.4,316 406.6,323 413,325.4 419.4,323.6 426,318 432,310.4 438.6,305 445,308 452,310.6 457.6,308.6 465,309.6 471,308.6 476.6,306 483,300 489,292 495.6,290 502,290.6 509,285 515.4,278.6 521.6,275.6 528,274.6 534.4,278 540.4,279 547,286 553.6,298 560,307 566.4,313 572.6,317 579,313 585.4,304 591.6,292 598,283 604.4,277.6 611,273.4 617.4,272.6 623.6,273.4 630,274 636.4,275 643,275 649.4,273 655.6,271 662,270.6 668.6,272 675,275 681.4,278.6 687.6,280.6 694,284.6 700.4,294 706.6,304 713,311 719.4,314 726,313 732.4,309.4 738.6,303 745,296 751.4,292.6 758,291.4 764.4,290.6 770.6,289 777,286.6 783.6,280.6 790,273.6 796.4,276.6 802.6,278.6 809,280 815.6,283 822,283 828.4,283 835,281.4 841.5,280" fill="none" stroke="#ee4a10" stroke-width="2" stroke-linejoin="round"/><path d="M361.5 263.6V341.4M380.5 263.6V341.4M400.5 263.6V341.4M419.5 263.6V341.4M438.5 263.6V341.4M457.5 263.6V341.4M476.5 263.6V341.4M495.5 263.6V341.4M515.5 263.6V341.4M534.5 263.6V341.4M553.5 263.6V341.4M572.5 263.6V341.4M591.5 263.6V341.4M611.5 263.6V341.4M630.5 263.6V341.4M649.5 263.6V341.4M668.5 263.6V341.4M687.5 263.6V341.4M706.5 263.6V341.4M726.5 263.6V341.4M745.5 263.6V341.4M764.5 263.6V341.4M783.5 263.6V341.4M802.5 263.6V341.4M821.5 263.6V341.4M841.5 263.6V341.4M348.7 266.5H841.5M348.7 281.5H841.5M348.7 296.5H841.5M348.7 311.5H841.5M348.7 326.5H841.5" stroke="#000" stroke-width="1" stroke-dasharray="2 2" fill="none" shape-rendering="crispEdges"/><rect x="348.5" y="263.5" width="493" height="78" fill="none" stroke="#000" stroke-width="1" shape-rendering="crispEdges"/><path d="M841.5 264.5V340.5" stroke="#666" stroke-width="1" shape-rendering="crispEdges"/><path d="M841.5 263.5V341.5" stroke="#000" stroke-width="1" stroke-dasharray="2 2" shape-rendering="crispEdges"/><path d="M348.7 341.5H841.5" stroke="#0a5a0a" stroke-width="1" stroke-dasharray="4 3"/><text x="344.5" y="270.7" font-size="12" fill="#000" text-anchor="end" >5</text><text x="344.5" y="285.7" font-size="12" fill="#000" text-anchor="end" >4</text><text x="344.5" y="300.7" font-size="12" fill="#000" text-anchor="end" >3</text><text x="344.5" y="315.7" font-size="12" fill="#000" text-anchor="end" >2</text><text x="344.5" y="330.7" font-size="12" fill="#000" text-anchor="end" >1</text><text x="344.5" y="345.7" font-size="12" fill="#000" text-anchor="end" >0</text><text x="844" y="270.7" font-size="12" fill="#ee4a10" text-anchor="start" >90</text><text x="844" y="285.7" font-size="12" fill="#ee4a10" text-anchor="start" >85</text><text x="844" y="300.7" font-size="12" fill="#ee4a10" text-anchor="start" >80</text><text x="844" y="315.7" font-size="12" fill="#ee4a10" text-anchor="start" >75</text><text x="844" y="330.7" font-size="12" fill="#ee4a10" text-anchor="start" >70</text><text x="844" y="345.7" font-size="12" fill="#ee4a10" text-anchor="start" >65</text><text transform="translate(293 304.5) rotate(-90)" font-size="12" fill="#00009b" text-anchor="middle">opad</text><text transform="translate(305.3 305) rotate(-90)" font-size="12" fill="#00009b" text-anchor="middle">(mm/h, kg/m&#178;/h)</text><text transform="translate(893.5 304.5) rotate(-90)" font-size="12" fill="#00009b" text-anchor="middle">(%)</text><text transform="translate(905.6 305) rotate(-90)" font-size="12" fill="#00009b" text-anchor="middle">wilgotno&#347;&#263; wzgl.</text><clipPath id="cpr"><polygon points="348.7,354.6 350.3,355 351.9,355.4 353.5,355.8 355.1,356.2 356.7,356.7 358.3,357.1 359.9,357.5 361.5,358 363.1,358.4 364.7,358.8 366.3,359.2 367.9,359.6 369.5,360 371.1,360.4 372.7,360.9 374.3,361.3 375.9,361.7 377.5,362.1 379.1,362.5 380.7,363 382.3,363.1 383.9,363.2 385.5,363.3 387.1,363.4 388.7,363.5 390.3,363.6 391.9,363.7 393.5,363.8 395.1,363.9 396.7,364.1 398.3,364.2 399.9,364.4 401.5,364.6 403.1,364.8 404.7,365.1 406.3,365.3 407.9,365.6 409.5,365.9 411.1,366.3 412.7,366.6 414.3,366.9 415.9,367.3 417.5,367.6 419.1,367.9 420.7,368.3 422.3,368.6 423.9,368.9 425.5,369.3 427.1,369.6 428.7,369.9 430.3,370.2 431.9,370.6 433.5,371.1 435.1,371.5 436.7,372 438.3,372.5 439.9,373 441.5,373.4 443.1,373.8 444.7,374.2 446.3,374.7 447.9,375.1 449.5,375.6 451.1,376 452.7,376.5 454.3,377 455.9,377.5 457.5,378 459.1,378.3 460.7,378.7 462.3,379 463.9,379.3 465.5,379.7 467.1,380 468.7,380.2 470.3,380.5 471.9,380.7 473.5,380.9 475.1,381.2 476.7,381.4 478.3,381.8 479.9,382.2 481.5,382.6 483.1,383 484.7,383.4 486.3,383.8 487.9,384.3 489.5,384.7 491.1,385.1 492.7,385.6 494.3,386 495.9,386.5 497.5,387.2 499.1,388 500.7,388.7 502.3,389.4 503.9,390.1 505.5,390.8 507.1,391.3 508.7,391.8 510.3,392.3 511.9,392.9 513.5,393.4 515.1,393.9 516.7,394.4 518.3,394.8 519.9,395.2 521.5,395.7 523.1,396.1 524.7,396.5 526.3,397 527.9,397.5 529.5,397.9 531.1,398.4 532.7,398.9 534.3,399.4 535.9,399.6 537.5,399.8 539.1,400 540.7,400.2 542.3,400.4 543.9,400.6 545.5,400.8 547.1,401.1 548.7,401.3 550.3,401.5 551.9,401.8 553.5,402 555.1,402.4 556.7,402.9 558.3,403.3 559.9,403.7 561.5,404.2 563.1,404.6 564.7,405.2 566.3,405.8 567.9,406.3 569.5,406.9 571.1,407.5 572.7,408 574.3,408.3 575.9,408.5 577.5,408.8 579.1,409 580.7,409.5 582.3,410 583.9,410.5 585.5,411 587.1,411.5 588.7,412.1 590.3,412.6 591.9,413.1 593.5,413.5 595.1,413.9 596.7,414.3 598.3,414.6 599.9,414.7 601.5,414.9 603.1,415 604.7,415.1 606.3,415.2 607.9,415.4 609.5,415.5 611.1,415.6 612.7,415.7 614.3,415.9 615.9,416 617.5,416.1 619.1,416.2 620.7,416.4 622.3,416.5 623.9,416.6 625.5,416.9 627.1,417.1 628.7,417.4 630.3,417.7 631.9,418 633.5,418.3 635.1,418.6 636.7,418.9 638.3,419.3 639.9,419.6 641.5,419.8 643.1,419.9 644.7,420.1 646.3,420.3 647.9,420.4 649.5,420.6 651.1,420.7 652.7,420.9 654.3,421 655.9,421.1 657.5,421.3 659.1,421.4 660.7,421.6 662.3,421.8 663.9,422 665.5,422.2 667.1,422.4 668.7,422.6 670.3,422.6 671.9,422.6 673.5,422.6 675.1,422.6 676.7,422.6 678.3,422.6 679.9,422.4 681.5,422.3 683.1,422.2 684.7,422 686.3,421.9 687.9,421.8 689.5,421.6 691.1,421.5 692.7,421.4 694.3,421.3 695.9,421.3 697.5,421.4 699.1,421.5 700.7,421.6 702.3,421.7 703.9,421.8 705.5,421.9 707.1,422 708.7,422 710.3,422.1 711.9,422.1 713.5,422.1 715.1,422.2 716.7,422.2 718.3,422.2 719.9,422.3 721.5,422.3 723.1,422.3 724.7,422.4 726.3,422.4 727.9,422.2 729.5,422.1 731.1,421.9 732.7,421.8 734.3,421.7 735.9,421.5 737.5,421.4 739.1,421.4 740.7,421.3 742.3,421.2 743.9,421.1 745.5,420.9 747.1,420.7 748.7,420.5 750.3,420.3 751.9,420 753.5,419.8 755.1,419.6 756.7,419.3 758.3,419 759.9,418.8 761.5,418.5 763.1,418.2 764.7,418 766.3,417.7 767.9,417.4 769.5,417.2 771.1,416.9 772.7,416.6 774.3,416.5 775.9,416.3 777.5,416.1 779.1,415.9 780.7,415.7 782.3,415.5 783.9,415.4 785.5,415.3 787.1,415.2 788.7,415 790.3,414.9 791.9,414.8 793.5,414.7 795.1,414.6 796.7,414.5 798.3,414.3 799.9,414.2 801.5,414.1 803.1,414 804.7,413.9 806.3,413.9 807.9,413.8 809.5,413.7 811.1,413.7 812.7,413.6 814.3,413.7 815.9,413.9 817.5,414 819.1,414.1 820.7,414.3 822.3,414.4 823.9,414.4 825.5,414.3 827.1,414.3 828.7,414.3 830.3,414.2 831.9,414.1 833.5,414 835.1,413.9 836.7,413.8 838.3,413.6 839.9,413.5 841.5,413.4 841.5,413.4 841.5,428.5 348.7,428.5"/></clipPath><g clip-path="url(#cpr)"><rect x="348.7" y="350.5" width="13.2" height="78" fill="#ee0a3c" /><rect x="361.6" y="350.5" width="13.7" height="78" fill="#f0144a" /><rect x="375" y="350.5" width="6.3" height="78" fill="#e80028" /><rect x="381" y="350.5" width="24.3" height="78" fill="#f50a28" /><rect x="405" y="350.5" width="27.3" height="78" fill="#fa2010" /><rect x="432" y="350.5" width="25.9" height="78" fill="#fa4010" /><rect x="457.6" y="350.5" width="25.7" height="78" fill="#ff7010" /><rect x="483" y="350.5" width="19.3" height="78" fill="#ff9010" /><rect x="502" y="350.5" width="13.7" height="78" fill="#ffaa00" /><rect x="515.4" y="350.5" width="24.9" height="78" fill="#ffd400" /><rect x="540" y="350.5" width="26.3" height="78" fill="#ffff00" /><rect x="566" y="350.5" width="19.7" height="78" fill="#c8ff14" /><rect x="585.4" y="350.5" width="44.9" height="78" fill="#96ff00" /><rect x="630" y="350.5" width="134.7" height="78" fill="#64ff00" /><rect x="764.4" y="350.5" width="77.4" height="78" fill="#96ff00" /></g><polyline points="348.7,354.6 350.3,355 351.9,355.4 353.5,355.8 355.1,356.2 356.7,356.7 358.3,357.1 359.9,357.5 361.5,358 363.1,358.4 364.7,358.8 366.3,359.2 367.9,359.6 369.5,360 371.1,360.4 372.7,360.9 374.3,361.3 375.9,361.7 377.5,362.1 379.1,362.5 380.7,363 382.3,363.1 383.9,363.2 385.5,363.3 387.1,363.4 388.7,363.5 390.3,363.6 391.9,363.7 393.5,363.8 395.1,363.9 396.7,364.1 398.3,364.2 399.9,364.4 401.5,364.6 403.1,364.8 404.7,365.1 406.3,365.3 407.9,365.6 409.5,365.9 411.1,366.3 412.7,366.6 414.3,366.9 415.9,367.3 417.5,367.6 419.1,367.9 420.7,368.3 422.3,368.6 423.9,368.9 425.5,369.3 427.1,369.6 428.7,369.9 430.3,370.2 431.9,370.6 433.5,371.1 435.1,371.5 436.7,372 438.3,372.5 439.9,373 441.5,373.4 443.1,373.8 444.7,374.2 446.3,374.7 447.9,375.1 449.5,375.6 451.1,376 452.7,376.5 454.3,377 455.9,377.5 457.5,378 459.1,378.3 460.7,378.7 462.3,379 463.9,379.3 465.5,379.7 467.1,380 468.7,380.2 470.3,380.5 471.9,380.7 473.5,380.9 475.1,381.2 476.7,381.4 478.3,381.8 479.9,382.2 481.5,382.6 483.1,383 484.7,383.4 486.3,383.8 487.9,384.3 489.5,384.7 491.1,385.1 492.7,385.6 494.3,386 495.9,386.5 497.5,387.2 499.1,388 500.7,388.7 502.3,389.4 503.9,390.1 505.5,390.8 507.1,391.3 508.7,391.8 510.3,392.3 511.9,392.9 513.5,393.4 515.1,393.9 516.7,394.4 518.3,394.8 519.9,395.2 521.5,395.7 523.1,396.1 524.7,396.5 526.3,397 527.9,397.5 529.5,397.9 531.1,398.4 532.7,398.9 534.3,399.4 535.9,399.6 537.5,399.8 539.1,400 540.7,400.2 542.3,400.4 543.9,400.6 545.5,400.8 547.1,401.1 548.7,401.3 550.3,401.5 551.9,401.8 553.5,402 555.1,402.4 556.7,402.9 558.3,403.3 559.9,403.7 561.5,404.2 563.1,404.6 564.7,405.2 566.3,405.8 567.9,406.3 569.5,406.9 571.1,407.5 572.7,408 574.3,408.3 575.9,408.5 577.5,408.8 579.1,409 580.7,409.5 582.3,410 583.9,410.5 585.5,411 587.1,411.5 588.7,412.1 590.3,412.6 591.9,413.1 593.5,413.5 595.1,413.9 596.7,414.3 598.3,414.6 599.9,414.7 601.5,414.9 603.1,415 604.7,415.1 606.3,415.2 607.9,415.4 609.5,415.5 611.1,415.6 612.7,415.7 614.3,415.9 615.9,416 617.5,416.1 619.1,416.2 620.7,416.4 622.3,416.5 623.9,416.6 625.5,416.9 627.1,417.1 628.7,417.4 630.3,417.7 631.9,418 633.5,418.3 635.1,418.6 636.7,418.9 638.3,419.3 639.9,419.6 641.5,419.8 643.1,419.9 644.7,420.1 646.3,420.3 647.9,420.4 649.5,420.6 651.1,420.7 652.7,420.9 654.3,421 655.9,421.1 657.5,421.3 659.1,421.4 660.7,421.6 662.3,421.8 663.9,422 665.5,422.2 667.1,422.4 668.7,422.6 670.3,422.6 671.9,422.6 673.5,422.6 675.1,422.6 676.7,422.6 678.3,422.6 679.9,422.4 681.5,422.3 683.1,422.2 684.7,422 686.3,421.9 687.9,421.8 689.5,421.6 691.1,421.5 692.7,421.4 694.3,421.3 695.9,421.3 697.5,421.4 699.1,421.5 700.7,421.6 702.3,421.7 703.9,421.8 705.5,421.9 707.1,422 708.7,422 710.3,422.1 711.9,422.1 713.5,422.1 715.1,422.2 716.7,422.2 718.3,422.2 719.9,422.3 721.5,422.3 723.1,422.3 724.7,422.4 726.3,422.4 727.9,422.2 729.5,422.1 731.1,421.9 732.7,421.8 734.3,421.7 735.9,421.5 737.5,421.4 739.1,421.4 740.7,421.3 742.3,421.2 743.9,421.1 745.5,420.9 747.1,420.7 748.7,420.5 750.3,420.3 751.9,420 753.5,419.8 755.1,419.6 756.7,419.3 758.3,419 759.9,418.8 761.5,418.5 763.1,418.2 764.7,418 766.3,417.7 767.9,417.4 769.5,417.2 771.1,416.9 772.7,416.6 774.3,416.5 775.9,416.3 777.5,416.1 779.1,415.9 780.7,415.7 782.3,415.5 783.9,415.4 785.5,415.3 787.1,415.2 788.7,415 790.3,414.9 791.9,414.8 793.5,414.7 795.1,414.6 796.7,414.5 798.3,414.3 799.9,414.2 801.5,414.1 803.1,414 804.7,413.9 806.3,413.9 807.9,413.8 809.5,413.7 811.1,413.7 812.7,413.6 814.3,413.7 815.9,413.9 817.5,414 819.1,414.1 820.7,414.3 822.3,414.4 823.9,414.4 825.5,414.3 827.1,414.3 828.7,414.3 830.3,414.2 831.9,414.1 833.5,414 835.1,413.9 836.7,413.8 838.3,413.6 839.9,413.5 841.5,413.4 841.5,413.4" fill="none" stroke="#000" stroke-width="2.2" stroke-linejoin="round"/><path d="M361.5 350.5V428.5M380.5 350.5V428.5M400.5 350.5V428.5M419.5 350.5V428.5M438.5 350.5V428.5M457.5 350.5V428.5M476.5 350.5V428.5M495.5 350.5V428.5M515.5 350.5V428.5M534.5 350.5V428.5M553.5 350.5V428.5M572.5 350.5V428.5M591.5 350.5V428.5M611.5 350.5V428.5M630.5 350.5V428.5M649.5 350.5V428.5M668.5 350.5V428.5M687.5 350.5V428.5M706.5 350.5V428.5M726.5 350.5V428.5M745.5 350.5V428.5M764.5 350.5V428.5M783.5 350.5V428.5M802.5 350.5V428.5M821.5 350.5V428.5M841.5 350.5V428.5M348.7 362.5H841.5M348.7 376.5H841.5M348.7 391.5H841.5M348.7 405.5H841.5M348.7 420.5H841.5" stroke="#000" stroke-width="1" stroke-dasharray="2 2" fill="none" shape-rendering="crispEdges"/><rect x="348.5" y="350.5" width="493" height="78" fill="none" stroke="#000" stroke-width="1" shape-rendering="crispEdges"/><path d="M841.5 351.5V427.5" stroke="#666" stroke-width="1" shape-rendering="crispEdges"/><path d="M841.5 350.5V428.5" stroke="#000" stroke-width="1" stroke-dasharray="2 2" shape-rendering="crispEdges"/><text x="344.5" y="366.7" font-size="12" fill="#000" text-anchor="end" >1030</text><text x="344.5" y="381.1" font-size="12" fill="#000" text-anchor="end" >1025</text><text x="344.5" y="395.7" font-size="12" fill="#000" text-anchor="end" >1020</text><text x="344.5" y="409.9" font-size="12" fill="#000" text-anchor="end" >1015</text><text x="344.5" y="424.7" font-size="12" fill="#000" text-anchor="end" >1010</text><text x="844" y="366.7" font-size="12" fill="#000" text-anchor="start" >772</text><text x="844" y="381.1" font-size="12" fill="#000" text-anchor="start" >769</text><text x="844" y="395.7" font-size="12" fill="#000" text-anchor="start" >765</text><text x="844" y="409.9" font-size="12" fill="#000" text-anchor="start" >761</text><text x="844" y="424.7" font-size="12" fill="#000" text-anchor="start" >758</text><text transform="translate(293 392.7) rotate(-90)" font-size="12" fill="#00009b" text-anchor="middle">ci&#347;nienie</text><text transform="translate(305.3 392) rotate(-90)" font-size="12" fill="#00009b" text-anchor="middle">(hPa)</text><text transform="translate(893.5 393.5) rotate(-90)" font-size="12" fill="#00009b" text-anchor="middle">(mm Hg)</text><text transform="translate(905.6 393) rotate(-90)" font-size="12" fill="#00009b" text-anchor="middle">ci&#347;nienie</text><clipPath id="cw"><polygon points="348.7,505.6 350.3,505.5 351.9,505.3 353.5,505.2 355.1,505 356.7,504.9 358.3,504.7 359.9,504.6 361.5,504.4 363.1,504.1 364.7,503.7 366.3,503.4 367.9,503.1 369.5,502.7 371.1,502.4 372.7,502.2 374.3,502 375.9,501.8 377.5,501.6 379.1,501.4 380.7,501.2 382.3,501.2 383.9,501.1 385.5,501.1 387.1,501 388.7,501 390.3,500.9 391.9,500.9 393.5,500.8 395.1,500.9 396.7,501.1 398.3,501.2 399.9,501.4 401.5,501.3 403.1,501.1 404.7,500.9 406.3,500.7 407.9,500.7 409.5,500.8 411.1,500.9 412.7,501 414.3,501.1 415.9,501.2 417.5,501.3 419.1,501.4 420.7,501 422.3,500.5 423.9,500 425.5,499.6 427.1,499.3 428.7,499.2 430.3,499.1 431.9,498.9 433.5,498.8 435.1,498.7 436.7,498.6 438.3,498.4 439.9,498.9 441.5,499.6 443.1,500.2 444.7,500.9 446.3,500.9 447.9,500.7 449.5,500.5 451.1,500.3 452.7,500.1 454.3,500 455.9,499.8 457.5,499.6 459.1,499.8 460.7,500.1 462.3,500.3 463.9,500.5 465.5,500.8 467.1,501 468.7,501.6 470.3,502.2 471.9,502.7 473.5,503.3 475.1,503.9 476.7,504.4 478.3,504.9 479.9,505.4 481.5,505.9 483.1,506.4 484.7,506.7 486.3,507 487.9,507.2 489.5,507.3 491.1,506.8 492.7,506.4 494.3,506 495.9,505.5 497.5,505.1 499.1,504.7 500.7,504.3 502.3,504.1 503.9,504.7 505.5,505.3 507.1,505.9 508.7,506.5 510.3,506.6 511.9,506.6 513.5,506.6 515.1,506.6 516.7,506.4 518.3,506.1 519.9,505.9 521.5,505.6 523.1,505.9 524.7,506.3 526.3,506.6 527.9,507 529.5,505.5 531.1,503.8 532.7,502.2 534.3,500.5 535.9,501.2 537.5,502.1 539.1,502.9 540.7,503.7 542.3,504.3 543.9,504.9 545.5,505.5 547.1,505.9 548.7,504.8 550.3,503.7 551.9,502.6 553.5,501.5 555.1,502.2 556.7,503.1 558.3,504 559.9,504.9 561.5,505 563.1,505 564.7,505 566.3,505 567.9,504.5 569.5,504 571.1,503.5 572.7,503.1 574.3,504.1 575.9,505.1 577.5,506.1 579.1,507 580.7,506.7 582.3,506.5 583.9,506.2 585.5,506 587.1,505.7 588.7,505.5 590.3,505.2 591.9,505 593.5,505.1 595.1,505.2 596.7,505.3 598.3,505.5 599.9,505.8 601.5,506.1 603.1,506.4 604.7,506.6 606.3,506.6 607.9,506.7 609.5,506.7 611.1,506.7 612.7,506.7 614.3,506.8 615.9,506.8 617.5,506.8 619.1,506.7 620.7,506.7 622.3,506.6 623.9,506.6 625.5,506.5 627.1,506.5 628.7,506.4 630.3,506.4 631.9,506.2 633.5,506 635.1,505.8 636.7,505.6 638.3,505.5 639.9,505.5 641.5,505.4 643.1,505.4 644.7,505.6 646.3,505.7 647.9,505.9 649.5,506 651.1,505.9 652.7,505.8 654.3,505.7 655.9,505.6 657.5,505.3 659.1,505.1 660.7,504.8 662.3,504.6 663.9,504.4 665.5,504.3 667.1,504.1 668.7,504 670.3,503.8 671.9,503.6 673.5,503.5 675.1,503.3 676.7,503.2 678.3,503.2 679.9,503.1 681.5,503 683.1,503 684.7,502.9 686.3,502.9 687.9,502.8 689.5,502.9 691.1,502.9 692.7,503 694.3,503 695.9,503.1 697.5,503.1 699.1,503.2 700.7,503.2 702.3,503 703.9,502.7 705.5,502.5 707.1,502.2 708.7,501.6 710.3,501 711.9,500.4 713.5,499.9 715.1,499.7 716.7,499.4 718.3,499.2 719.9,498.9 721.5,498.7 723.1,498.4 724.7,498.2 726.3,498 727.9,497.7 729.5,497.4 731.1,497.2 732.7,496.9 734.3,496.7 735.9,496.4 737.5,496.2 739.1,496 740.7,496.2 742.3,496.3 743.9,496.5 745.5,496.6 747.1,496.5 748.7,496.4 750.3,496.3 751.9,496.2 753.5,496.2 755.1,496.1 756.7,496 758.3,495.9 759.9,495.8 761.5,495.7 763.1,495.7 764.7,495.6 766.3,495.4 767.9,495.3 769.5,495.1 771.1,495 772.7,494.8 774.3,494.7 775.9,494.5 777.5,494.3 779.1,494.1 780.7,494 782.3,493.8 783.9,493.6 785.5,493.3 787.1,493.1 788.7,492.8 790.3,492.6 791.9,492.9 793.5,493.1 795.1,493.4 796.7,493.6 798.3,493.5 799.9,493.4 801.5,493.3 803.1,493.1 804.7,492.9 806.3,492.7 807.9,492.5 809.5,492.5 811.1,492.9 812.7,493.3 814.3,493.7 815.9,494 817.5,494.1 819.1,494.2 820.7,494.3 822.3,494.5 823.9,495 825.5,495.5 827.1,496 828.7,496.5 830.3,496.7 831.9,497 833.5,497.3 835.1,497.6 836.7,497.7 838.3,497.8 839.9,497.9 841.5,498 841.5,498 841.5,515.1 348.7,515.1"/></clipPath><g clip-path="url(#cw)"><rect x="348.7" y="437.5" width="6.6" height="77.6" fill="#00ffff" /><rect x="355" y="437.5" width="70.3" height="77.6" fill="#00c8ff" /><rect x="425" y="437.5" width="19.3" height="77.6" fill="#0080ff" /><rect x="444" y="437.5" width="32.3" height="77.6" fill="#00c8ff" /><rect x="476" y="437.5" width="19.9" height="77.6" fill="#00ffff" /><rect x="495.6" y="437.5" width="6.7" height="77.6" fill="#00c8ff" /><rect x="502" y="437.5" width="26.3" height="77.6" fill="#00ffff" /><rect x="528" y="437.5" width="12.3" height="77.6" fill="#00c8ff" /><rect x="540" y="437.5" width="7.3" height="77.6" fill="#00ffff" /><rect x="547" y="437.5" width="31.3" height="77.6" fill="#00c8ff" /><rect x="578" y="437.5" width="13.9" height="77.6" fill="#00ffff" /><rect x="591.6" y="437.5" width="6.7" height="77.6" fill="#00c8ff" /><rect x="598" y="437.5" width="57.3" height="77.6" fill="#00ffff" /><rect x="655" y="437.5" width="58.3" height="77.6" fill="#00c8ff" /><rect x="713" y="437.5" width="64.3" height="77.6" fill="#0080ff" /><rect x="777" y="437.5" width="45.3" height="77.6" fill="#004080" /><rect x="822" y="437.5" width="19.8" height="77.6" fill="#0080ff" /></g><polyline points="348.7,505.6 350.3,505.5 351.9,505.3 353.5,505.2 355.1,505 356.7,504.9 358.3,504.7 359.9,504.6 361.5,504.4 363.1,504.1 364.7,503.7 366.3,503.4 367.9,503.1 369.5,502.7 371.1,502.4 372.7,502.2 374.3,502 375.9,501.8 377.5,501.6 379.1,501.4 380.7,501.2 382.3,501.2 383.9,501.1 385.5,501.1 387.1,501 388.7,501 390.3,500.9 391.9,500.9 393.5,500.8 395.1,500.9 396.7,501.1 398.3,501.2 399.9,501.4 401.5,501.3 403.1,501.1 404.7,500.9 406.3,500.7 407.9,500.7 409.5,500.8 411.1,500.9 412.7,501 414.3,501.1 415.9,501.2 417.5,501.3 419.1,501.4 420.7,501 422.3,500.5 423.9,500 425.5,499.6 427.1,499.3 428.7,499.2 430.3,499.1 431.9,498.9 433.5,498.8 435.1,498.7 436.7,498.6 438.3,498.4 439.9,498.9 441.5,499.6 443.1,500.2 444.7,500.9 446.3,500.9 447.9,500.7 449.5,500.5 451.1,500.3 452.7,500.1 454.3,500 455.9,499.8 457.5,499.6 459.1,499.8 460.7,500.1 462.3,500.3 463.9,500.5 465.5,500.8 467.1,501 468.7,501.6 470.3,502.2 471.9,502.7 473.5,503.3 475.1,503.9 476.7,504.4 478.3,504.9 479.9,505.4 481.5,505.9 483.1,506.4 484.7,506.7 486.3,507 487.9,507.2 489.5,507.3 491.1,506.8 492.7,506.4 494.3,506 495.9,505.5 497.5,505.1 499.1,504.7 500.7,504.3 502.3,504.1 503.9,504.7 505.5,505.3 507.1,505.9 508.7,506.5 510.3,506.6 511.9,506.6 513.5,506.6 515.1,506.6 516.7,506.4 518.3,506.1 519.9,505.9 521.5,505.6 523.1,505.9 524.7,506.3 526.3,506.6 527.9,507 529.5,505.5 531.1,503.8 532.7,502.2 534.3,500.5 535.9,501.2 537.5,502.1 539.1,502.9 540.7,503.7 542.3,504.3 543.9,504.9 545.5,505.5 547.1,505.9 548.7,504.8 550.3,503.7 551.9,502.6 553.5,501.5 555.1,502.2 556.7,503.1 558.3,504 559.9,504.9 561.5,505 563.1,505 564.7,505 566.3,505 567.9,504.5 569.5,504 571.1,503.5 572.7,503.1 574.3,504.1 575.9,505.1 577.5,506.1 579.1,507 580.7,506.7 582.3,506.5 583.9,506.2 585.5,506 587.1,505.7 588.7,505.5 590.3,505.2 591.9,505 593.5,505.1 595.1,505.2 596.7,505.3 598.3,505.5 599.9,505.8 601.5,506.1 603.1,506.4 604.7,506.6 606.3,506.6 607.9,506.7 609.5,506.7 611.1,506.7 612.7,506.7 614.3,506.8 615.9,506.8 617.5,506.8 619.1,506.7 620.7,506.7 622.3,506.6 623.9,506.6 625.5,506.5 627.1,506.5 628.7,506.4 630.3,506.4 631.9,506.2 633.5,506 635.1,505.8 636.7,505.6 638.3,505.5 639.9,505.5 641.5,505.4 643.1,505.4 644.7,505.6 646.3,505.7 647.9,505.9 649.5,506 651.1,505.9 652.7,505.8 654.3,505.7 655.9,505.6 657.5,505.3 659.1,505.1 660.7,504.8 662.3,504.6 663.9,504.4 665.5,504.3 667.1,504.1 668.7,504 670.3,503.8 671.9,503.6 673.5,503.5 675.1,503.3 676.7,503.2 678.3,503.2 679.9,503.1 681.5,503 683.1,503 684.7,502.9 686.3,502.9 687.9,502.8 689.5,502.9 691.1,502.9 692.7,503 694.3,503 695.9,503.1 697.5,503.1 699.1,503.2 700.7,503.2 702.3,503 703.9,502.7 705.5,502.5 707.1,502.2 708.7,501.6 710.3,501 711.9,500.4 713.5,499.9 715.1,499.7 716.7,499.4 718.3,499.2 719.9,498.9 721.5,498.7 723.1,498.4 724.7,498.2 726.3,498 727.9,497.7 729.5,497.4 731.1,497.2 732.7,496.9 734.3,496.7 735.9,496.4 737.5,496.2 739.1,496 740.7,496.2 742.3,496.3 743.9,496.5 745.5,496.6 747.1,496.5 748.7,496.4 750.3,496.3 751.9,496.2 753.5,496.2 755.1,496.1 756.7,496 758.3,495.9 759.9,495.8 761.5,495.7 763.1,495.7 764.7,495.6 766.3,495.4 767.9,495.3 769.5,495.1 771.1,495 772.7,494.8 774.3,494.7 775.9,494.5 777.5,494.3 779.1,494.1 780.7,494 782.3,493.8 783.9,493.6 785.5,493.3 787.1,493.1 788.7,492.8 790.3,492.6 791.9,492.9 793.5,493.1 795.1,493.4 796.7,493.6 798.3,493.5 799.9,493.4 801.5,493.3 803.1,493.1 804.7,492.9 806.3,492.7 807.9,492.5 809.5,492.5 811.1,492.9 812.7,493.3 814.3,493.7 815.9,494 817.5,494.1 819.1,494.2 820.7,494.3 822.3,494.5 823.9,495 825.5,495.5 827.1,496 828.7,496.5 830.3,496.7 831.9,497 833.5,497.3 835.1,497.6 836.7,497.7 838.3,497.8 839.9,497.9 841.5,498 841.5,498" fill="none" stroke="#0000a0" stroke-width="2" stroke-linejoin="round"/><path d="M349 483.5H356.5M356 484.5H362.5M362 483.5H368.9M368.4 481.5H375.5M375 480.5H381.5M381 479.5H400.5M400 478.5H413.5M413 481.5H419.9M419.4 478.5H426.5M426 477.5H445.5M445 479.5H452.5M452 475.5H458.5M458 476.5H464.5M464 480.5H470.5M470 483.5H477.1M476.6 485.5H483.5M483 490.5H489.5M489 491.5H496.1M495.6 484.5H509.5M509 487.5H522.1M521.6 484.5H528.5M528 478.5H540.9M540.4 481.5H547.5M547 476.5H560.5M560 483.5H566.9M566.4 484.5H573.1M572.6 483.5H579.5M579 487.5H592.1M591.6 488.5H604.9M604.4 487.5H611.5M611 486.5H617.9M617.4 484.5H624.1M623.6 483.5H630.5M630 482.5H636.9M636.4 481.5H649.9M649.4 483.5H669.1M668.6 477.5H675.5M675 473.5H688.1M687.6 472.5H694.5M694 462.5H700.9M700.4 461.5H713.5M713 463.5H726.5M726 461.5H732.9M732.4 459.5H739.1M738.6 458.5H745.5M745 456.5H751.9M751.4 455.5H764.9M764.4 457.5H771.1M770.6 459.5H777.5M777 458.5H784.1M783.6 454.5H796.9M796.4 456.5H809.5M809 457.5H816.1M815.6 462.5H822.5M822 464.5H828.9M828.4 465.5H835.5M835 469.5H842" stroke="#ff0000" stroke-width="1" fill="none"/><path d="M361.5 437.5V515.1M380.5 437.5V515.1M400.5 437.5V515.1M419.5 437.5V515.1M438.5 437.5V515.1M457.5 437.5V515.1M476.5 437.5V515.1M495.5 437.5V515.1M515.5 437.5V515.1M534.5 437.5V515.1M553.5 437.5V515.1M572.5 437.5V515.1M591.5 437.5V515.1M611.5 437.5V515.1M630.5 437.5V515.1M649.5 437.5V515.1M668.5 437.5V515.1M687.5 437.5V515.1M706.5 437.5V515.1M726.5 437.5V515.1M745.5 437.5V515.1M764.5 437.5V515.1M783.5 437.5V515.1M802.5 437.5V515.1M821.5 437.5V515.1M841.5 437.5V515.1M348.7 464.5H841.5M348.7 489.5H841.5" stroke="#000" stroke-width="1" stroke-dasharray="2 2" fill="none" shape-rendering="crispEdges"/><rect x="348.5" y="437.5" width="493" height="78" fill="none" stroke="#000" stroke-width="1" shape-rendering="crispEdges"/><path d="M841.5 438.5V514.5" stroke="#666" stroke-width="1" shape-rendering="crispEdges"/><path d="M841.5 437.5V515.5" stroke="#000" stroke-width="1" stroke-dasharray="2 2" shape-rendering="crispEdges"/><text x="344.5" y="443.8" font-size="12" fill="#000" text-anchor="end" >15</text><text x="344.5" y="468.9" font-size="12" fill="#000" text-anchor="end" >10</text><text x="344.5" y="493.9" font-size="12" fill="#000" text-anchor="end" >5</text><text x="344.5" y="519.4" font-size="12" fill="#000" text-anchor="end" >0</text><text x="844" y="443.8" font-size="12" fill="#000" text-anchor="start" >54</text><text x="844" y="468.9" font-size="12" fill="#000" text-anchor="start" >36</text><text x="844" y="493.9" font-size="12" fill="#000" text-anchor="start" >18</text><text x="844" y="519.4" font-size="12" fill="#000" text-anchor="start" >&#160;0</text><text transform="translate(293 481.5) rotate(-90)" font-size="12" fill="#00009b" text-anchor="middle">wiatr</text><text transform="translate(305.3 481.5) rotate(-90)" font-size="12" fill="#00009b" text-anchor="middle">(m/s)</text><text transform="translate(893.5 481) rotate(-90)" font-size="12" fill="#00009b" text-anchor="middle">(km/h)</text><text transform="translate(905.6 481.7) rotate(-90)" font-size="12" fill="#00009b" text-anchor="middle">wiatr</text><path d="M361.5 521.8V551.6M380.5 521.8V551.6M400.5 521.8V551.6M419.5 521.8V551.6M438.5 521.8V551.6M457.5 521.8V551.6M476.5 521.8V551.6M495.5 521.8V551.6M515.5 521.8V551.6M534.5 521.8V551.6M553.5 521.8V551.6M572.5 521.8V551.6M591.5 521.8V551.6M611.5 521.8V551.6M630.5 521.8V551.6M649.5 521.8V551.6M668.5 521.8V551.6M687.5 521.8V551.6M706.5 521.8V551.6M726.5 521.8V551.6M745.5 521.8V551.6M764.5 521.8V551.6M783.5 521.8V551.6M802.5 521.8V551.6M821.5 521.8V551.6M841.5 521.8V551.6" stroke="#000" stroke-width="1" stroke-dasharray="2 2" fill="none" shape-rendering="crispEdges"/><path d="M349.4 543.5L350.1 530.9" stroke="#0000a0" stroke-width="1.3"/><polygon points="350.1,530.9 352.4,536 347.2,535.8" fill="#0000a0" /><path d="M354.4 543.4L356.1 531" stroke="#0000a0" stroke-width="1.3"/><polygon points="356.1,531 358,536.3 352.8,535.6" fill="#0000a0" /><path d="M360.4 543.4L363 531" stroke="#0000a0" stroke-width="1.3"/><polygon points="363,531 364.5,536.5 359.4,535.4" fill="#0000a0" /><path d="M366.5 543.3L369.8 531.1" stroke="#0000a0" stroke-width="1.3"/><polygon points="369.8,531.1 371,536.6 366,535.3" fill="#0000a0" /><path d="M372.9 543.3L376.1 531.1" stroke="#0000a0" stroke-width="1.3"/><polygon points="376.1,531.1 377.4,536.6 372.3,535.3" fill="#0000a0" /><path d="M379.2 543.3L382.7 531.1" stroke="#0000a0" stroke-width="1.3"/><polygon points="382.7,531.1 383.8,536.7 378.8,535.2" fill="#0000a0" /><path d="M385.5 543.2L389.2 531.2" stroke="#0000a0" stroke-width="1.3"/><polygon points="389.2,531.2 390.2,536.7 385.2,535.2" fill="#0000a0" /><path d="M391.8 543.2L395.7 531.2" stroke="#0000a0" stroke-width="1.3"/><polygon points="395.7,531.2 396.6,536.8 391.7,535.2" fill="#0000a0" /><path d="M398.2 543.2L402.1 531.2" stroke="#0000a0" stroke-width="1.3"/><polygon points="402.1,531.2 403,536.8 398.1,535.2" fill="#0000a0" /><path d="M404.6 543.2L408.5 531.2" stroke="#0000a0" stroke-width="1.3"/><polygon points="408.5,531.2 409.4,536.8 404.4,535.2" fill="#0000a0" /><path d="M411 543.2L414.9 531.2" stroke="#0000a0" stroke-width="1.3"/><polygon points="414.9,531.2 415.8,536.8 410.8,535.2" fill="#0000a0" /><path d="M417.4 543.2L421.2 531.2" stroke="#0000a0" stroke-width="1.3"/><polygon points="421.2,531.2 422.2,536.8 417.2,535.2" fill="#0000a0" /><path d="M423.7 543.2L427.6 531.2" stroke="#0000a0" stroke-width="1.3"/><polygon points="427.6,531.2 428.6,536.8 423.6,535.2" fill="#0000a0" /><path d="M430.1 543.2L434 531.2" stroke="#0000a0" stroke-width="1.3"/><polygon points="434,531.2 435,536.8 430,535.2" fill="#0000a0" /><path d="M436.7 543.3L440.2 531.1" stroke="#0000a0" stroke-width="1.3"/><polygon points="440.2,531.1 441.3,536.7 436.3,535.2" fill="#0000a0" /><path d="M443.3 543.3L446.3 531.1" stroke="#0000a0" stroke-width="1.3"/><polygon points="446.3,531.1 447.6,536.6 442.6,535.3" fill="#0000a0" /><path d="M449.7 543.3L452.7 531.1" stroke="#0000a0" stroke-width="1.3"/><polygon points="452.7,531.1 454,536.6 449,535.3" fill="#0000a0" /><path d="M456 543.3L459.1 531.1" stroke="#0000a0" stroke-width="1.3"/><polygon points="459.1,531.1 460.4,536.6 455.4,535.3" fill="#0000a0" /><path d="M462.4 543.3L465.5 531.1" stroke="#0000a0" stroke-width="1.3"/><polygon points="465.5,531.1 466.8,536.6 461.8,535.3" fill="#0000a0" /><path d="M468.8 543.3L471.9 531.1" stroke="#0000a0" stroke-width="1.3"/><polygon points="471.9,531.1 473.2,536.6 468.1,535.3" fill="#0000a0" /><path d="M475.8 543.4L477.5 531" stroke="#0000a0" stroke-width="1.3"/><polygon points="477.5,531 479.4,536.3 474.2,535.6" fill="#0000a0" /><path d="M482.4 543.5L483.5 530.9" stroke="#0000a0" stroke-width="1.3"/><polygon points="483.5,530.9 485.7,536.1 480.5,535.7" fill="#0000a0" /><path d="M489.7 543.5L488.6 530.9" stroke="#0000a0" stroke-width="1.3"/><polygon points="488.6,530.9 491.7,535.7 486.5,536.1" fill="#0000a0" /><path d="M496.8 543.4L494.2 531" stroke="#0000a0" stroke-width="1.3"/><polygon points="494.2,531 497.7,535.4 492.6,536.5" fill="#0000a0" /><path d="M503.9 543.1L499.6 531.3" stroke="#0000a0" stroke-width="1.3"/><polygon points="499.6,531.3 503.7,535.1 498.8,536.9" fill="#0000a0" /><path d="M511.1 542.7L504.8 531.7" stroke="#0000a0" stroke-width="1.3"/><polygon points="504.8,531.7 509.6,534.8 505,537.4" fill="#0000a0" /><path d="M517.1 542.9L511.8 531.5" stroke="#0000a0" stroke-width="1.3"/><polygon points="511.8,531.5 516.2,534.9 511.5,537.1" fill="#0000a0" /><path d="M523 543.1L518.7 531.3" stroke="#0000a0" stroke-width="1.3"/><polygon points="518.7,531.3 522.9,535.1 518,536.9" fill="#0000a0" /><path d="M530.4 542.5L523.8 531.9" stroke="#0000a0" stroke-width="1.3"/><polygon points="523.8,531.9 528.6,534.7 524.2,537.5" fill="#0000a0" /><path d="M537.8 541.7L528.8 532.7" stroke="#0000a0" stroke-width="1.3"/><polygon points="528.8,532.7 534.2,534.4 530.5,538.1" fill="#0000a0" /><path d="M540.4 543.5L540.4 530.9" stroke="#0000a0" stroke-width="1.3"/><polygon points="540.4,530.9 543,535.9 537.8,535.9" fill="#0000a0" /><path d="M546.6 543.5L547 530.9" stroke="#0000a0" stroke-width="1.3"/><polygon points="547,530.9 549.5,536 544.3,535.8" fill="#0000a0" /><path d="M552.4 543.4L554.2 531" stroke="#0000a0" stroke-width="1.3"/><polygon points="554.2,531 556.1,536.3 550.9,535.6" fill="#0000a0" /><path d="M558.5 543.4L561.1 531" stroke="#0000a0" stroke-width="1.3"/><polygon points="561.1,531 562.6,536.5 557.5,535.4" fill="#0000a0" /><path d="M565 543.4L567.2 531" stroke="#0000a0" stroke-width="1.3"/><polygon points="567.2,531 568.9,536.4 563.8,535.5" fill="#0000a0" /><path d="M572.1 543.5L572.7 530.9" stroke="#0000a0" stroke-width="1.3"/><polygon points="572.7,530.9 575.1,536 569.9,535.8" fill="#0000a0" /><path d="M578.3 543.5L579.4 530.9" stroke="#0000a0" stroke-width="1.3"/><polygon points="579.4,530.9 581.5,536.1 576.4,535.7" fill="#0000a0" /><path d="M585.1 543.5L585.1 530.9" stroke="#0000a0" stroke-width="1.3"/><polygon points="585.1,530.9 587.7,535.9 582.5,535.9" fill="#0000a0" /><path d="M592 543.5L590.9 530.9" stroke="#0000a0" stroke-width="1.3"/><polygon points="590.9,530.9 593.9,535.7 588.7,536.1" fill="#0000a0" /><path d="M598.5 543.5L597.1 530.9" stroke="#0000a0" stroke-width="1.3"/><polygon points="597.1,530.9 600.3,535.6 595.1,536.2" fill="#0000a0" /><path d="M604.8 543.5L603.7 530.9" stroke="#0000a0" stroke-width="1.3"/><polygon points="603.7,530.9 606.7,535.7 601.5,536.1" fill="#0000a0" /><path d="M613.2 542.8L607.3 531.6" stroke="#0000a0" stroke-width="1.3"/><polygon points="607.3,531.6 611.9,534.8 607.3,537.3" fill="#0000a0" /><path d="M621.6 540.5L610.9 533.9" stroke="#0000a0" stroke-width="1.3"/><polygon points="610.9,533.9 616.5,534.3 613.8,538.7" fill="#0000a0" /><path d="M628.1 540.2L617 534.2" stroke="#0000a0" stroke-width="1.3"/><polygon points="617,534.2 622.7,534.3 620.2,538.9" fill="#0000a0" /><path d="M634.3 540.6L623.7 533.8" stroke="#0000a0" stroke-width="1.3"/><polygon points="623.7,533.8 629.3,534.3 626.5,538.7" fill="#0000a0" /><path d="M640.3 541.2L630.7 533.2" stroke="#0000a0" stroke-width="1.3"/><polygon points="630.7,533.2 636.2,534.4 632.8,538.4" fill="#0000a0" /><path d="M645.8 542.3L638.3 532.1" stroke="#0000a0" stroke-width="1.3"/><polygon points="638.3,532.1 643.4,534.6 639.2,537.7" fill="#0000a0" /><path d="M652.1 542.4L644.8 532" stroke="#0000a0" stroke-width="1.3"/><polygon points="644.8,532 649.8,534.6 645.6,537.6" fill="#0000a0" /><path d="M659.5 541.2L649.8 533.2" stroke="#0000a0" stroke-width="1.3"/><polygon points="649.8,533.2 655.3,534.4 652,538.4" fill="#0000a0" /><path d="M667 538.3L654.6 536.1" stroke="#0000a0" stroke-width="1.3"/><polygon points="654.6,536.1 660,534.4 659.1,539.5" fill="#0000a0" /><path d="M673.4 536.1L661 538.3" stroke="#0000a0" stroke-width="1.3"/><polygon points="661,538.3 665.5,534.9 666.4,540" fill="#0000a0" /><path d="M679.5 534.8L667.8 539.6" stroke="#0000a0" stroke-width="1.3"/><polygon points="667.8,539.6 671.5,535.3 673.4,540.1" fill="#0000a0" /><path d="M685.7 534.2L674.5 540.2" stroke="#0000a0" stroke-width="1.3"/><polygon points="674.5,540.2 677.7,535.5 680.2,540.1" fill="#0000a0" /><path d="M692 534.1L681 540.4" stroke="#0000a0" stroke-width="1.3"/><polygon points="681,540.4 684.1,535.6 686.7,540.1" fill="#0000a0" /><path d="M698.4 534.2L687.3 540.2" stroke="#0000a0" stroke-width="1.3"/><polygon points="687.3,540.2 690.5,535.5 692.9,540.1" fill="#0000a0" /><path d="M705.1 534.8L693.4 539.6" stroke="#0000a0" stroke-width="1.3"/><polygon points="693.4,539.6 697,535.3 699,540.1" fill="#0000a0" /><path d="M717.9 535.6L706.2 538" stroke="#0000a0" stroke-width="1.3"/><polygon points="706.2,538 710.5,534.5 711.6,539.6" fill="#0000a0" /><path d="M724.4 536.3L712.5 537.3" stroke="#0000a0" stroke-width="1.3"/><polygon points="712.5,537.3 717.2,534.3 717.7,539.5" fill="#0000a0" /><path d="M730.8 536.8L718.8 536.8" stroke="#0000a0" stroke-width="1.3"/><polygon points="718.8,536.8 723.8,534.2 723.8,539.4" fill="#0000a0" /><path d="M737.2 536.8L725.2 536.8" stroke="#0000a0" stroke-width="1.3"/><polygon points="725.2,536.8 730.2,534.2 730.2,539.4" fill="#0000a0" /><path d="M743.6 536.8L731.6 536.8" stroke="#0000a0" stroke-width="1.3"/><polygon points="731.6,536.8 736.6,534.2 736.6,539.4" fill="#0000a0" /><path d="M750 536.8L738 536.8" stroke="#0000a0" stroke-width="1.3"/><polygon points="738,536.8 743,534.2 743,539.4" fill="#0000a0" /><path d="M756.4 536.8L744.4 536.8" stroke="#0000a0" stroke-width="1.3"/><polygon points="744.4,536.8 749.4,534.2 749.4,539.4" fill="#0000a0" /><path d="M762.8 536.8L750.8 536.8" stroke="#0000a0" stroke-width="1.3"/><polygon points="750.8,536.8 755.8,534.2 755.8,539.4" fill="#0000a0" /><path d="M769.2 536.8L757.2 536.8" stroke="#0000a0" stroke-width="1.3"/><polygon points="757.2,536.8 762.2,534.2 762.2,539.4" fill="#0000a0" /><path d="M775.5 536.8L763.5 536.8" stroke="#0000a0" stroke-width="1.3"/><polygon points="763.5,536.8 768.5,534.2 768.5,539.4" fill="#0000a0" /><path d="M781.9 536.8L769.9 536.8" stroke="#0000a0" stroke-width="1.3"/><polygon points="769.9,536.8 774.9,534.2 774.9,539.4" fill="#0000a0" /><path d="M788.3 536.8L776.3 536.8" stroke="#0000a0" stroke-width="1.3"/><polygon points="776.3,536.8 781.3,534.2 781.3,539.4" fill="#0000a0" /><path d="M794.7 536.8L782.7 536.8" stroke="#0000a0" stroke-width="1.3"/><polygon points="782.7,536.8 787.7,534.2 787.7,539.4" fill="#0000a0" /><path d="M801.1 536.8L789.1 536.8" stroke="#0000a0" stroke-width="1.3"/><polygon points="789.1,536.8 794.1,534.2 794.1,539.4" fill="#0000a0" /><path d="M807.5 536.8L795.5 536.8" stroke="#0000a0" stroke-width="1.3"/><polygon points="795.5,536.8 800.5,534.2 800.5,539.4" fill="#0000a0" /><path d="M813.9 536.8L801.9 536.8" stroke="#0000a0" stroke-width="1.3"/><polygon points="801.9,536.8 806.9,534.2 806.9,539.4" fill="#0000a0" /><path d="M820.3 536.8L808.3 536.8" stroke="#0000a0" stroke-width="1.3"/><polygon points="808.3,536.8 813.3,534.2 813.3,539.4" fill="#0000a0" /><path d="M826.7 536.8L814.7 536.8" stroke="#0000a0" stroke-width="1.3"/><polygon points="814.7,536.8 819.7,534.2 819.7,539.4" fill="#0000a0" /><path d="M833.1 536.8L821.1 536.8" stroke="#0000a0" stroke-width="1.3"/><polygon points="821.1,536.8 826.1,534.2 826.1,539.4" fill="#0000a0" /><path d="M839.5 536.8L827.5 536.8" stroke="#0000a0" stroke-width="1.3"/><polygon points="827.5,536.8 832.5,534.2 832.5,539.4" fill="#0000a0" /><path d="M845.8 536.8L833.8 536.8" stroke="#0000a0" stroke-width="1.3"/><polygon points="833.8,536.8 838.8,534.2 838.8,539.4" fill="#0000a0" /><path d="M853 536.8L841 536.8" stroke="#0000a0" stroke-width="1.3"/><polygon points="841,536.8 846,534.2 846,539.4" fill="#0000a0" /><rect x="348.5" y="521.5" width="493" height="30" fill="none" stroke="#000" stroke-width="1" shape-rendering="crispEdges"/><path d="M841.5 522.5V550.5" stroke="#666" stroke-width="1" shape-rendering="crispEdges"/><path d="M841.5 521.5V551.5" stroke="#000" stroke-width="1" stroke-dasharray="2 2" shape-rendering="crispEdges"/><path d="M349.7 550.5H840.5" stroke="#666" stroke-width="1" shape-rendering="crispEdges"/><text x="284" y="539.5" font-size="11" fill="#00009b" text-anchor="start" >W</text><text x="294.9" y="530.5" font-size="11" fill="#00009b" text-anchor="start" >N</text><text x="302.2" y="539.5" font-size="11" fill="#00009b" text-anchor="start" >E</text><text x="294.9" y="547.3" font-size="11" fill="#00009b" text-anchor="start" >S</text><text x="883.2" y="539.5" font-size="11" fill="#00009b" text-anchor="start" >W</text><text x="894.1" y="530.5" font-size="11" fill="#00009b" text-anchor="start" >N</text><text x="901.4" y="539.5" font-size="11" fill="#00009b" text-anchor="start" >E</text><text x="894.1" y="547.3" font-size="11" fill="#00009b" text-anchor="start" >S</text><rect x="348.7" y="557.8" width="492.8" height="78.1" fill="#80c3ef" /><rect x="384.7" y="557.8" width="52.9" height="78.1" fill="#87d6ff" /><rect x="538.1" y="557.8" width="52.9" height="78.1" fill="#87d6ff" /><rect x="691.5" y="557.8" width="52.9" height="78.1" fill="#87d6ff" /><clipPath id="ccb"><rect x="348.7" y="557.8" width="493.3" height="78.1"/></clipPath><g clip-path="url(#ccb)"><circle cx="349.7" cy="568.8" r="2.7" fill="#999"/><circle cx="349.7" cy="564" r="2.7" fill="#b22222"/><circle cx="355.1" cy="568.8" r="2.7" fill="#aaa"/><circle cx="355.1" cy="564" r="2.7" fill="#b22222"/><circle cx="361.5" cy="568.8" r="2.7" fill="#888"/><circle cx="361.5" cy="564" r="2.7" fill="#b22222"/><circle cx="367.9" cy="568.8" r="2.7" fill="#ccc"/><circle cx="367.9" cy="564" r="2.7" fill="#b22222"/><circle cx="374.3" cy="568.8" r="2.7" fill="#999"/><circle cx="374.3" cy="564" r="2.7" fill="#b22222"/><circle cx="380.6" cy="568.8" r="2.7" fill="#bbb"/><circle cx="380.6" cy="564" r="2.7" fill="#b22222"/><circle cx="387" cy="568.8" r="2.7" fill="#999"/><circle cx="387" cy="564" r="2.7" fill="#b22222"/><circle cx="393.4" cy="568.8" r="2.7" fill="#ccc"/><circle cx="393.4" cy="564" r="2.7" fill="#b22222"/><circle cx="399.8" cy="568.8" r="2.7" fill="#aaa"/><circle cx="399.8" cy="571.4" r="2.7" fill="#fff"/><circle cx="399.8" cy="564" r="2.7" fill="#b22222"/><circle cx="406.2" cy="568.8" r="2.7" fill="#bbb"/><circle cx="406.2" cy="571.4" r="2.7" fill="#fff"/><circle cx="406.2" cy="564" r="2.7" fill="#b22222"/><circle cx="412.6" cy="568.8" r="2.7" fill="#ccc"/><circle cx="412.6" cy="571.4" r="2.7" fill="#fff"/><circle cx="412.6" cy="564" r="2.7" fill="#b22222"/><circle cx="419" cy="568.8" r="2.7" fill="#aaa"/><circle cx="419" cy="571.4" r="2.7" fill="#fff"/><circle cx="419" cy="564" r="2.7" fill="#b22222"/><circle cx="425.4" cy="568.8" r="2.7" fill="#ccc"/><circle cx="425.4" cy="571.4" r="2.7" fill="#fff"/><circle cx="425.4" cy="564" r="2.7" fill="#b22222"/><circle cx="431.8" cy="568.8" r="2.7" fill="#bbb"/><circle cx="431.8" cy="571.4" r="2.7" fill="#fff"/><circle cx="431.8" cy="564" r="2.7" fill="#b22222"/><circle cx="438.2" cy="568.8" r="2.7" fill="#ccc"/><circle cx="438.2" cy="571.4" r="2.7" fill="#fff"/><circle cx="438.2" cy="564" r="2.7" fill="#b22222"/><circle cx="444.5" cy="568.8" r="2.7" fill="#ddd"/><circle cx="444.5" cy="571.4" r="2.7" fill="#fff"/><circle cx="444.5" cy="564" r="2.7" fill="#b22222"/><circle cx="450.9" cy="568.8" r="2.7" fill="#ccc"/><circle cx="450.9" cy="571.4" r="2.7" fill="#fff"/><circle cx="450.9" cy="564" r="2.7" fill="#b22222"/><circle cx="457.3" cy="568.8" r="2.7" fill="#ddd"/><circle cx="457.3" cy="570.8" r="2.7" fill="#fff"/><circle cx="457.3" cy="564" r="2.7" fill="#b22222"/><circle cx="463.7" cy="568.8" r="2.7" fill="#ccc"/><circle cx="463.7" cy="570.8" r="2.7" fill="#fff"/><circle cx="463.7" cy="564" r="2.7" fill="#b22222"/><circle cx="470.1" cy="568.8" r="2.7" fill="#bbb"/><circle cx="470.1" cy="570.8" r="2.7" fill="#fff"/><circle cx="470.1" cy="564" r="2.7" fill="#b22222"/><circle cx="476.5" cy="568.8" r="2.7" fill="#ccc"/><circle cx="476.5" cy="570.8" r="2.7" fill="#fff"/><circle cx="476.5" cy="564" r="2.7" fill="#b22222"/><circle cx="349.7" cy="577" r="2.7" fill="#fff"/><circle cx="355.1" cy="577.6" r="2.7" fill="#fff"/><circle cx="361.5" cy="578" r="2.7" fill="#fff"/><circle cx="367.9" cy="579" r="2.7" fill="#fff"/><circle cx="374.3" cy="579" r="2.7" fill="#fff"/><circle cx="380.6" cy="579" r="2.7" fill="#fff"/><circle cx="387" cy="578.6" r="2.7" fill="#fff"/><circle cx="393.4" cy="577.6" r="2.7" fill="#fff"/><circle cx="482.9" cy="565.4" r="2.7" fill="#b22222"/><circle cx="482.9" cy="568" r="2.7" fill="#fff"/><circle cx="489.3" cy="565.4" r="2.7" fill="#b22222"/><circle cx="489.3" cy="568" r="2.7" fill="#fff"/><circle cx="495.7" cy="565.6" r="2.7" fill="#b22222"/><circle cx="495.7" cy="568" r="2.7" fill="#fff"/><circle cx="502.1" cy="567.6" r="2.7" fill="#fff"/><circle cx="508.4" cy="566" r="2.7" fill="#fff"/><circle cx="514.8" cy="565.4" r="2.7" fill="#b22222"/><circle cx="514.8" cy="570" r="2.7" fill="#fff"/><circle cx="521.2" cy="565.4" r="2.7" fill="#b22222"/><circle cx="521.2" cy="570" r="2.7" fill="#fff"/><circle cx="527.6" cy="565.4" r="2.7" fill="#b22222"/><circle cx="527.6" cy="570" r="2.7" fill="#fff"/><circle cx="508.8" cy="567" r="2.7" fill="#fff"/><circle cx="540.4" cy="567" r="2.7" fill="#b22222"/><circle cx="540.4" cy="569.6" r="2.7" fill="#fff"/><circle cx="546.8" cy="567.6" r="2.7" fill="#b22222"/><circle cx="546.8" cy="570.2" r="2.7" fill="#fff"/><circle cx="553.2" cy="568" r="2.7" fill="#b22222"/><circle cx="553.2" cy="570.6" r="2.7" fill="#fff"/><circle cx="559.6" cy="568.8" r="2.7" fill="#b22222"/><circle cx="559.6" cy="571.4" r="2.7" fill="#fff"/><circle cx="566" cy="569.4" r="2.7" fill="#b22222"/><circle cx="566" cy="572" r="2.7" fill="#fff"/><circle cx="572.3" cy="570.4" r="2.7" fill="#fff"/><circle cx="534" cy="630" r="2.7" fill="#fff"/><circle cx="655.4" cy="630" r="2.7" fill="#fff"/><circle cx="661.8" cy="630" r="2.7" fill="#d8d8d8"/><circle cx="668.2" cy="630" r="2.7" fill="#d8d8d8"/><circle cx="674.6" cy="630" r="2.7" fill="#fff"/><circle cx="681" cy="598" r="2.7" fill="#b22222"/><circle cx="681" cy="603.2" r="2.7" fill="#fff"/><circle cx="770.4" cy="620" r="2.7" fill="#b22222"/><circle cx="776.8" cy="617" r="2.7" fill="#b22222"/><circle cx="783.2" cy="615.4" r="2.7" fill="#b22222"/><circle cx="789.6" cy="614.8" r="2.7" fill="#b22222"/><circle cx="796" cy="615" r="2.7" fill="#b22222"/><circle cx="770.4" cy="623.6" r="2.7" fill="#fff"/><circle cx="776.8" cy="622" r="2.7" fill="#ccc"/><circle cx="776.8" cy="626" r="2.7" fill="#fff"/><circle cx="783.2" cy="624" r="2.7" fill="#ccc"/><circle cx="783.2" cy="628.4" r="2.7" fill="#fff"/><circle cx="783.2" cy="622.2" r="2.7" fill="#666"/><circle cx="783.2" cy="619.6" r="2.7" fill="#000"/><circle cx="789.6" cy="627.6" r="2.7" fill="#666"/><circle cx="789.6" cy="625" r="2.7" fill="#000"/><circle cx="796" cy="624.2" r="2.7" fill="#666"/><circle cx="796" cy="621.6" r="2.7" fill="#000"/><circle cx="802.4" cy="624.6" r="2.7" fill="#666"/><circle cx="802.4" cy="622" r="2.7" fill="#000"/><circle cx="808.8" cy="623.6" r="2.7" fill="#666"/><circle cx="808.8" cy="621" r="2.7" fill="#000"/><circle cx="815.2" cy="622.6" r="2.7" fill="#666"/><circle cx="815.2" cy="620" r="2.7" fill="#000"/><circle cx="821.6" cy="623.6" r="2.7" fill="#666"/><circle cx="821.6" cy="621" r="2.7" fill="#000"/><circle cx="828" cy="622" r="2.7" fill="#666"/><circle cx="828" cy="619.4" r="2.7" fill="#000"/><circle cx="834.3" cy="620" r="2.7" fill="#666"/><circle cx="834.3" cy="617.4" r="2.7" fill="#000"/><circle cx="841.5" cy="621.2" r="2.7" fill="#666"/><circle cx="841.5" cy="618.6" r="2.7" fill="#000"/><circle cx="789.6" cy="630.6" r="2.7" fill="#999"/><circle cx="796" cy="630.6" r="2.7" fill="#ccc"/><circle cx="802.4" cy="630.6" r="2.7" fill="#aaa"/><circle cx="808.8" cy="630.6" r="2.7" fill="#ccc"/><circle cx="815.2" cy="630.6" r="2.7" fill="#ccc"/><circle cx="821.6" cy="630.6" r="2.7" fill="#aaa"/><circle cx="828" cy="630.6" r="2.7" fill="#ccc"/><circle cx="834.3" cy="630.6" r="2.7" fill="#ccc"/><circle cx="841.5" cy="630.6" r="2.7" fill="#aaa"/><circle cx="802.4" cy="577.6" r="2.7" fill="#b22222"/><circle cx="808.8" cy="577.6" r="2.7" fill="#b22222"/><circle cx="815.2" cy="577.6" r="2.7" fill="#b22222"/><circle cx="821.6" cy="577.6" r="2.7" fill="#b22222"/><circle cx="828" cy="577.6" r="2.7" fill="#b22222"/><circle cx="834.3" cy="577.6" r="2.7" fill="#b22222"/><circle cx="841.5" cy="577.6" r="2.7" fill="#b22222"/></g><polyline points="349,590.6 355,588 371,588 395,588.4 413,587.4 426,589 438.6,591.4 457.6,592.4 470,591.4 476.6,591.6 489,595.6 495.6,596.4 502,594.4 509,595.6 515.4,602.4 521.6,628 528,632 534.4,633.6 540.4,632.4 547,610 553.6,595.6 560,593 572.6,592 585.4,594 598,596.4 604.4,606 611,614.4 617.4,632.4 630,633 636.4,630.6 643,626 649.4,630 655.6,632 668.6,632.6 675,630 678,608 681.4,594.6 687.6,593.6 700.4,589 713,586 726,585.6 738.6,585.4 751.4,586 764.4,584.6 783.6,585.6 790,598 796.4,594 802.6,595.6 809,591.6 815.6,594.4 822,600.4 828.4,595.6 835,593.4 841.5,602.4" fill="none" stroke="#ff9a0a" stroke-width="2" stroke-linejoin="round"/><path d="M361.5 557.8V635.9M380.5 557.8V635.9M400.5 557.8V635.9M419.5 557.8V635.9M438.5 557.8V635.9M457.5 557.8V635.9M476.5 557.8V635.9M495.5 557.8V635.9M515.5 557.8V635.9M534.5 557.8V635.9M553.5 557.8V635.9M572.5 557.8V635.9M591.5 557.8V635.9M611.5 557.8V635.9M630.5 557.8V635.9M649.5 557.8V635.9M668.5 557.8V635.9M687.5 557.8V635.9M706.5 557.8V635.9M726.5 557.8V635.9M745.5 557.8V635.9M764.5 557.8V635.9M783.5 557.8V635.9M802.5 557.8V635.9M821.5 557.8V635.9M841.5 557.8V635.9M348.7 577.5H841.5M348.7 597.5H841.5M348.7 616.5H841.5" stroke="#000" stroke-width="1" stroke-dasharray="2 2" fill="none" shape-rendering="crispEdges"/><rect x="348.5" y="557.5" width="493" height="78" fill="none" stroke="#000" stroke-width="1" shape-rendering="crispEdges"/><path d="M841.5 558.5V634.5" stroke="#666" stroke-width="1" shape-rendering="crispEdges"/><path d="M841.5 557.5V635.5" stroke="#000" stroke-width="1" stroke-dasharray="2 2" shape-rendering="crispEdges"/><text x="344.5" y="563.8" font-size="12" fill="#000" text-anchor="end" >15.0</text><text x="344.5" y="581.5" font-size="12" fill="#000" text-anchor="end" >7.0</text><text x="344.5" y="601.5" font-size="12" fill="#000" text-anchor="end" >2.0</text><text x="344.5" y="620.9" font-size="12" fill="#000" text-anchor="end" >0.5</text><text x="344.5" y="640.2" font-size="12" fill="#000" text-anchor="end" >0.0</text><text x="844" y="561.9" font-size="12" fill="#ff8c00" text-anchor="start" >100</text><text x="844" y="581.5" font-size="12" fill="#ff8c00" text-anchor="start" >20</text><text x="844" y="601.5" font-size="12" fill="#ff8c00" text-anchor="start" >5</text><text x="844" y="620.9" font-size="12" fill="#ff8c00" text-anchor="start" >1</text><text x="844" y="640.2" font-size="12" fill="#ff8c00" text-anchor="start" >0</text><text transform="translate(293 594) rotate(-90)" font-size="12" fill="#00009b" text-anchor="middle">pion. rozci&#261;g&#322;. chm.</text><text transform="translate(305.3 589.5) rotate(-90)" font-size="12" fill="#00009b" text-anchor="middle">(km)</text><text transform="translate(893.5 595) rotate(-90)" font-size="12" fill="#00009b" text-anchor="middle">(km)</text><text transform="translate(905.6 595.7) rotate(-90)" font-size="12" fill="#00009b" text-anchor="middle">widzialno&#347;&#263;</text><rect x="348.7" y="645.2" width="492.8" height="15.8" fill="#80c3ef" /><rect x="384.7" y="645.2" width="52.9" height="15.8" fill="#87d6ff" /><rect x="538.1" y="645.2" width="52.9" height="15.8" fill="#87d6ff" /><rect x="691.5" y="645.2" width="52.9" height="15.8" fill="#87d6ff" /><polygon points="782.5,661 790.5,646 841.5,646 841.5,661" fill="#555" /><rect x="526.3" y="654" width="2.6" height="7" fill="#ffb400" /><rect x="533.1" y="649" width="2.6" height="12" fill="#ffb400" /><rect x="539.3" y="656" width="2.6" height="5" fill="#ffb400" /><rect x="616.1" y="656" width="2.6" height="5" fill="#ffb400" /><rect x="622.3" y="651" width="2.6" height="10" fill="#ffb400" /><rect x="628.7" y="654" width="2.6" height="7" fill="#ffb400" /><rect x="654.3" y="656" width="2.6" height="5" fill="#ffb400" /><rect x="660.7" y="650" width="2.6" height="11" fill="#ffb400" /><rect x="667.3" y="651" width="2.6" height="10" fill="#ffb400" /><path d="M361.5 645.2V661M380.5 645.2V661M400.5 645.2V661M419.5 645.2V661M438.5 645.2V661M457.5 645.2V661M476.5 645.2V661M495.5 645.2V661M515.5 645.2V661M534.5 645.2V661M553.5 645.2V661M572.5 645.2V661M591.5 645.2V661M611.5 645.2V661M630.5 645.2V661M649.5 645.2V661M668.5 645.2V661M687.5 645.2V661M706.5 645.2V661M726.5 645.2V661M745.5 645.2V661M764.5 645.2V661M783.5 645.2V661M802.5 645.2V661M821.5 645.2V661M841.5 645.2V661" stroke="#000" stroke-width="1" stroke-dasharray="2 2" fill="none" shape-rendering="crispEdges"/><path d="M348.5 661V645.5H841.5V661" stroke="#000" fill="none" shape-rendering="crispEdges"/><text x="344.5" y="651" font-size="12" fill="#000" text-anchor="end" >8</text><text x="844" y="651" font-size="12" fill="#ff8c00" text-anchor="start" >1</text><text transform="translate(293 692.5) rotate(-90)" font-size="12" fill="#00009b" text-anchor="middle">zachmurzenie</text><defs><linearGradient id="bg" x1="0" x2="1" y1="0" y2="0"><stop offset="0" stop-color="#134e9f"/><stop offset="0.33" stop-color="#1551a2"/><stop offset="0.4" stop-color="#1f5aaa"/><stop offset="0.47" stop-color="#346eb8"/><stop offset="0.56" stop-color="#3973bc"/><stop offset="0.7" stop-color="#2f69b5"/><stop offset="0.82" stop-color="#2059aa"/><stop offset="1" stop-color="#174fa2"/></linearGradient><radialGradient id="bg2" cx="0.62" cy="0.2" r="0.45"><stop offset="0" stop-color="#5088c8" stop-opacity="0.45"/><stop offset="1" stop-color="#5088c8" stop-opacity="0"/></radialGradient></defs><rect x="280" y="0" width="630" height="119.8" fill="url(#bg)" /><rect x="280" y="0" width="630" height="119.8" fill="url(#bg2)" /><clipPath id="cbn"><rect x="280" y="0" width="630" height="119.8"/></clipPath><g clip-path="url(#cbn)"><rect x="591.8" y="6" width="2.2" height="120" rx="1" fill="#5a5c60"/><clipPath id="cp1"><rect x="594.7" y="8.5" width="48" height="121" rx="7"/></clipPath><rect x="592.7" y="6.5" width="52" height="125" rx="8.5" fill="#15171c" stroke="#3a3d44" stroke-width="0.8"/><g clip-path="url(#cp1)"><rect x="592" y="6" width="54" height="119" fill="#08090d" /><rect x="592" y="6" width="54" height="52" fill="#0c2852"/><rect x="600" y="20" width="34" height="8.7" fill="#05070c" rx="1.5"/><circle cx="638" cy="27" r="2.6" fill="#05070c"/><circle cx="613.5" cy="39" r="2.6" fill="none" stroke="#8ab0e0" stroke-width="0.8"/><path d="M611 43.500000000000004h6" stroke="#8ab0e0" stroke-width="0.8"/><text x="620" y="44.5" font-size="9" fill="#fff" textLength="11.5" lengthAdjust="spacingAndGlyphs">2.5&#176;</text><rect x="609" y="49" width="8" height="4" fill="#1a3a6a" rx="1"/><rect x="619" y="49" width="8" height="4" fill="#1a3a6a" rx="1"/><rect x="600" y="61" width="8" height="20" fill="#121826" rx="1"/><rect x="610.5" y="61" width="8" height="20" fill="#121826" rx="1"/><circle cx="604" cy="70" r="1.6" fill="#244a80"/><circle cx="614.5" cy="70" r="1.6" fill="#244a80"/><rect x="600" y="85" width="44" height="6.5" fill="#151b29" rx="1"/><rect x="600" y="95" width="44" height="8.5" fill="#121826" rx="1"/><rect x="600" y="106" width="44" height="8" fill="#121826" rx="1"/></g><rect x="611.7" y="10.7" width="14" height="3.4" rx="1.7" fill="#000"/><clipPath id="cp2"><rect x="651.8" y="23.5" width="46.4" height="106" rx="7"/></clipPath><rect x="649.8" y="21.5" width="50.4" height="110" rx="8.5" fill="#15171c" stroke="#3a3d44" stroke-width="0.8"/><g clip-path="url(#cp2)"><rect x="649" y="22" width="52" height="103" fill="#3c3e38" /><path d="M668 52l14-6 12 8 4 30-10 12 2 24h-22l2-20-8-14 2-20z" fill="#77745e"/><path d="M676 60l10 2 4 16-8 10-8-6zM672 96l10 2 2 14-10 4z" fill="#8e8a70"/><path d="M652 50l10 4-2 14-8 4zM686 100l10-6v24l-8 2z" fill="#23241f"/><rect x="651" y="24" width="48" height="10" fill="#23251f" /><circle cx="662" cy="28.5" r="1.6" fill="#5aa028"/><rect x="653" y="36" width="31.5" height="8.4" fill="#b8b8b0" rx="2.5"/><circle cx="689.5" cy="38.8" r="3.7" fill="#1c1c1c"/><circle cx="689.5" cy="38.2" r="1.3" fill="#eee"/><path d="M692 58l3 1-2 3z" fill="#d8e060"/></g><rect x="668" y="25.7" width="14" height="3.4" rx="1.7" fill="#000"/><rect x="698.2" y="30" width="2" height="95" rx="1" fill="#2c2e30"/><clipPath id="cp3"><rect x="624.2" y="47.5" width="47.8" height="86" rx="7"/></clipPath><rect x="622.2" y="45.5" width="51.8" height="90" rx="8.5" fill="#15171c" stroke="#3a3d44" stroke-width="0.8"/><g clip-path="url(#cp3)"><rect x="622" y="46" width="53" height="79" fill="#fdfdfd" /><rect x="626" y="58" width="33" height="7.6" fill="#262626" rx="1.5"/><circle cx="663.6" cy="60.700000000000004" r="2.9" fill="#262626"/><rect x="628.5" y="77.5" width="36.5" height="1.5" fill="#dde6ee" /><rect x="628.5" y="84" width="36.5" height="4.8" fill="#a8d4f0" /><path d="M628.5 85q8-1 14-3t12 0t10.5-2.500000000000001v6.500000000000001h-36.5z" fill="#4f9fd8" opacity="0.75"/><path d="M628.5 84q8-1.5 14-3t12-0.5t10.5-2.500000000000001" stroke="#e03030" stroke-width="0.9" fill="none"/><path d="M628.5 86q8-1.5 14-2.5t12 0t10.5-2" stroke="#2040c0" stroke-width="0.9" fill="none"/><path d="M628.5 91q4 8 8 4t8 0t8 1t6-3t6-1" stroke="#e06030" fill="none" stroke-width="0.7"/><path d="M628.5 90.5h36.5M628.5 95.500000000000005h36.5M628.5 100.50000000000001h36.5M628.5 105.50000000000001h36.5M628.5 110.50000000000001h36.5" stroke="#ccc" stroke-width="0.4"/><path d="M650 112q2-8 3-0M658 112q1.5-5 3 0" stroke="#50b050" stroke-width="0.6" fill="none"/><rect x="628.5" y="113.7" width="8.5" height="7.3" fill="#f4ee10" /><rect x="637" y="113.7" width="20" height="7.3" fill="#96e020" /><rect x="657" y="113.7" width="4" height="7.3" fill="#f0f020" /><rect x="661" y="113.7" width="4" height="7.3" fill="#96e020" /></g><rect x="641.1" y="49.7" width="14" height="3.4" rx="1.7" fill="#000"/></g><g fill="#fff" font-size="19.6"><text x="311.5" y="40.2" textLength="157" lengthAdjust="spacingAndGlyphs">Oficjalna aplikacja</text><text x="311.5" y="67.9" textLength="210" lengthAdjust="spacingAndGlyphs"><tspan font-weight="bold">Meteo ICM</tspan> do pobrania</text><text x="311.5" y="95.6" textLength="225.5" lengthAdjust="spacingAndGlyphs">w Google Play i App Store</text></g><path d="M757.4 74Q763.5 66.3 770.8 68.8Q773.6 72 772.4 77.5" stroke="#fff" stroke-width="1.3" fill="none" stroke-linecap="round"/><path d="M751.6 86.5Q750.5 97 757.5 99.2Q762.5 99.4 766.8 94.3Q760.5 98 756.3 95.6Q752.6 92.8 751.6 86.5Z" fill="#fff"/><text x="764" y="90.3" font-size="21.5" font-weight="bold" fill="#fff" stroke="#fff" stroke-width="0.45" textLength="91.5" lengthAdjust="spacingAndGlyphs">icmmeteo</text><rect x="860.4" y="72.6" width="25.6" height="25.4" fill="#fff" rx="2.5"/><text x="864.1" y="91.2" font-size="15" font-weight="bold" fill="#1a55a8" textLength="12.3" lengthAdjust="spacingAndGlyphs">M</text><circle cx="880.9" cy="80.6" r="1.65" fill="none" stroke="#1a55a8" stroke-width="1.1"/>
</svg>
</body></html>
